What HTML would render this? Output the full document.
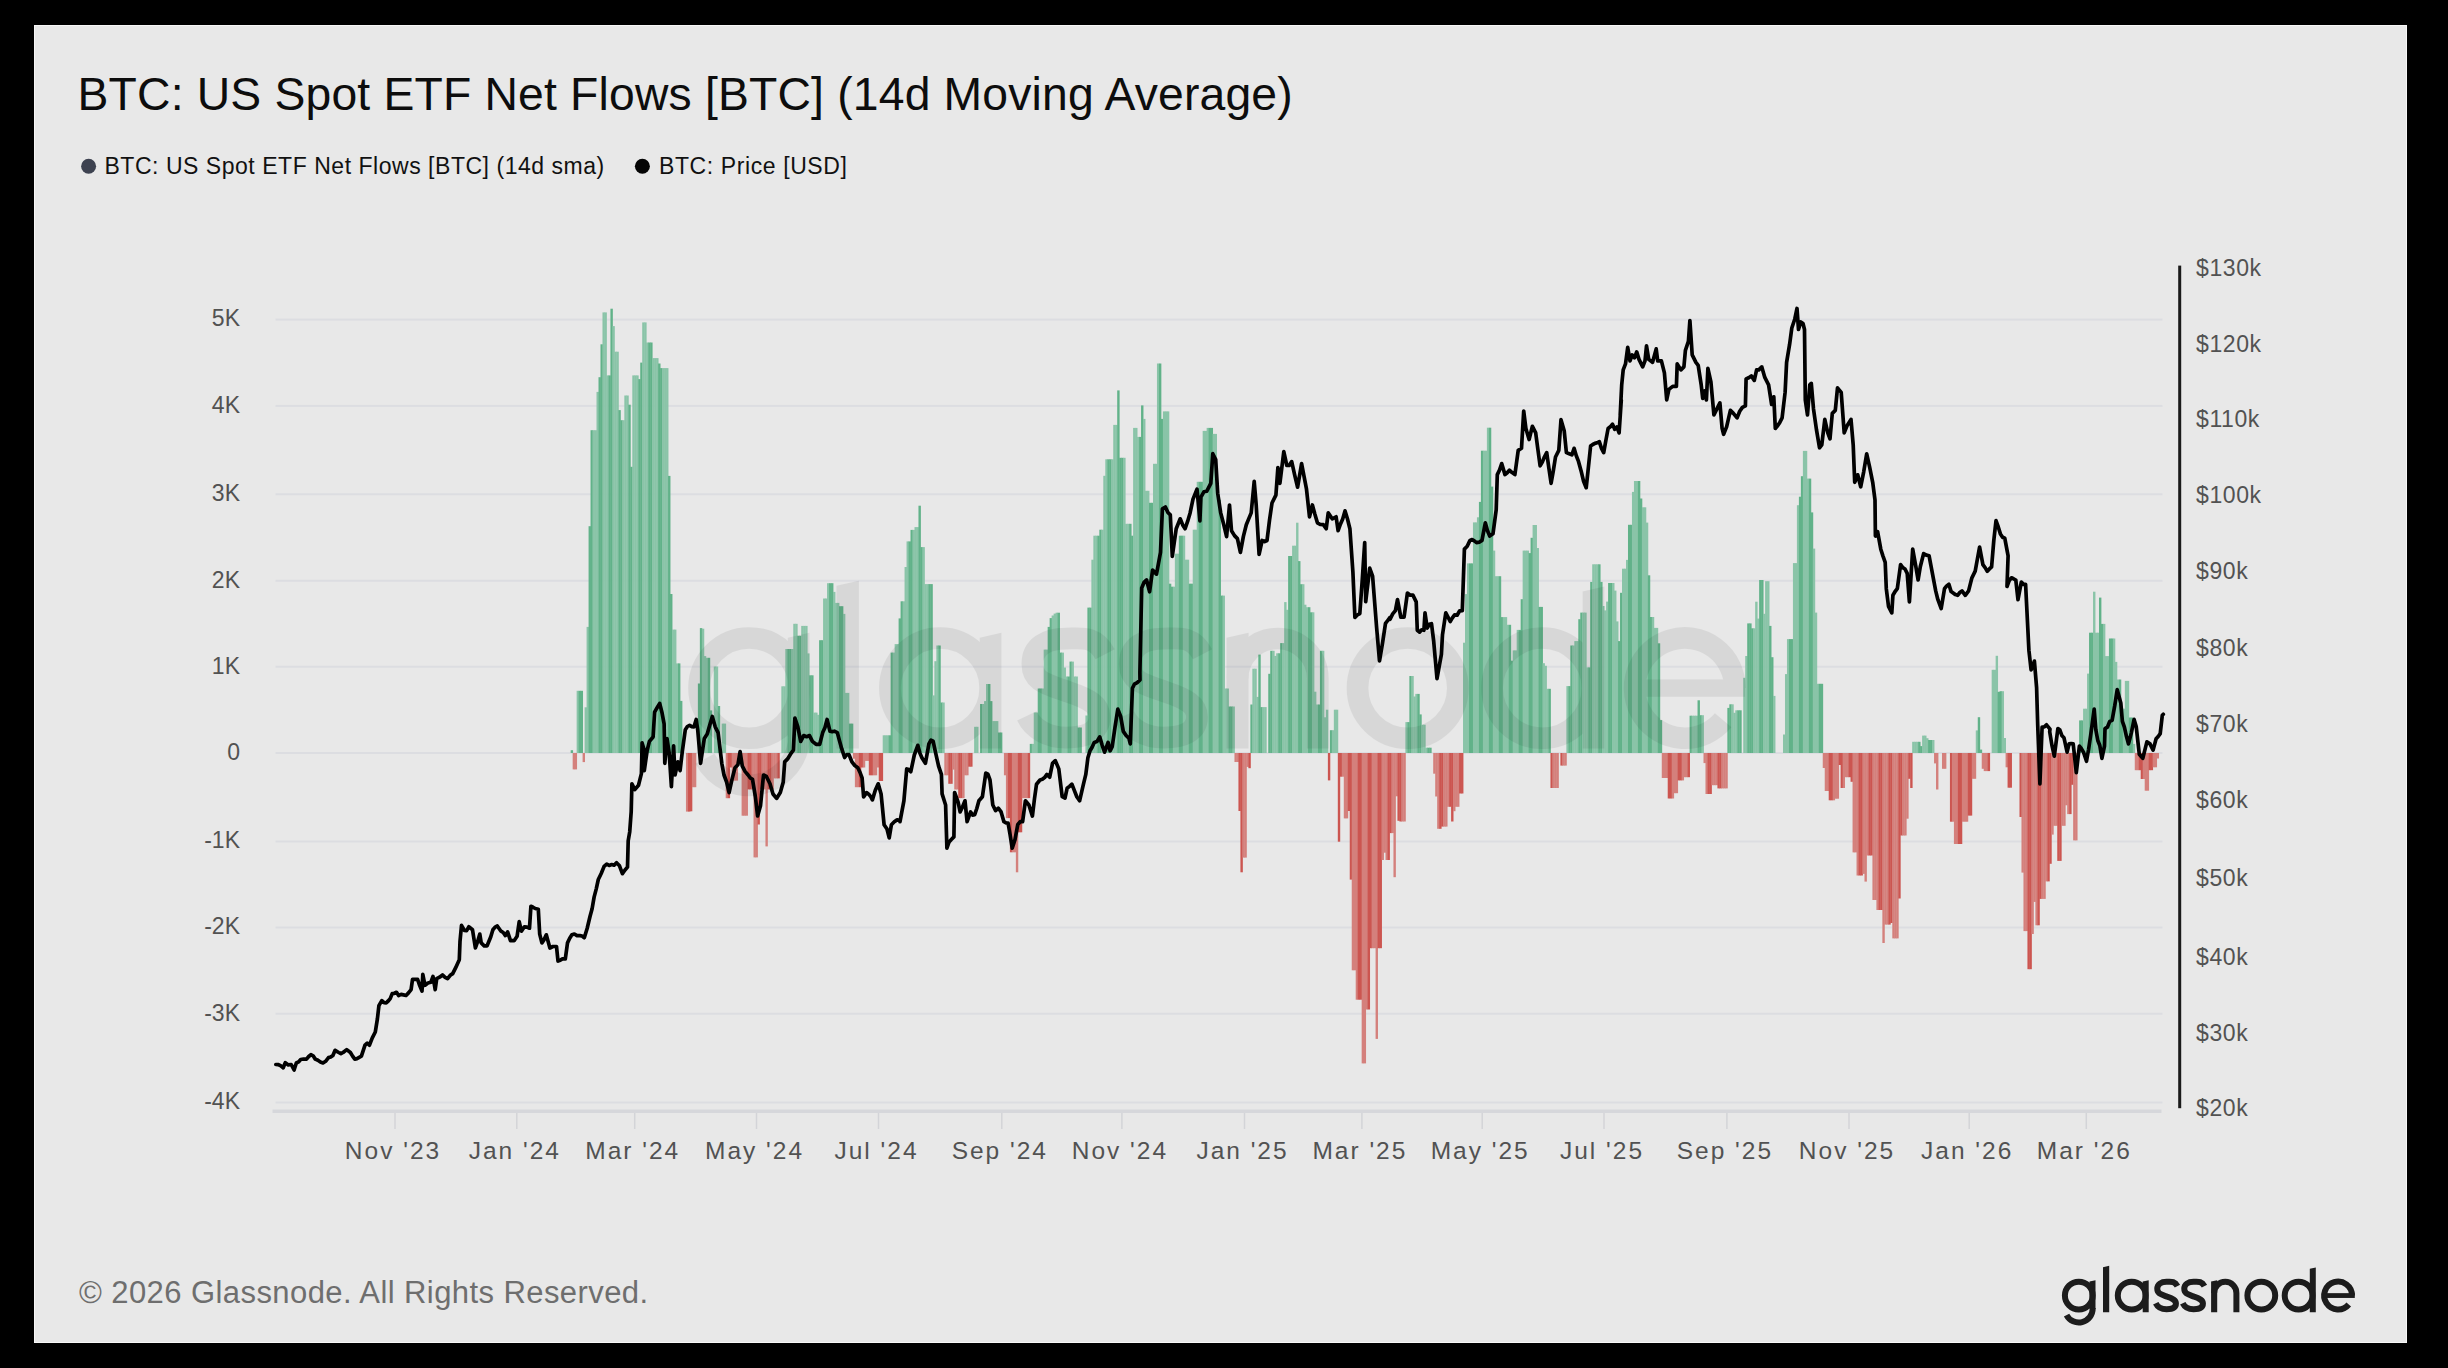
<!DOCTYPE html>
<html><head><meta charset="utf-8"><style>
html,body{margin:0;padding:0;background:#000;}
body{width:2448px;height:1368px;overflow:hidden;position:relative;font-family:"Liberation Sans",sans-serif;}
#panel{position:absolute;left:34px;top:25px;width:2373px;height:1318px;background:#e8e8e8;box-sizing:border-box;border:1px solid #f7f7f7;}
.ax{font-family:"Liberation Sans",sans-serif;font-size:23px;fill:#525252;}
.tk{font-family:"Liberation Sans",sans-serif;font-size:24.5px;fill:#525252;letter-spacing:2.0px;}
</style></head><body>
<div id="panel"></div>
<svg width="2448" height="1368" viewBox="0 0 2448 1368" style="position:absolute;left:0;top:0">
<defs><g id="gn"><circle cx="2078.80" cy="1295.55" r="13.90" fill="none" stroke-width="6.0"/>
<path d="M2089.50,1281.60 L2095.50,1280.20 L2095.50,1309.00 L2089.50,1309.00 Z" stroke="none"/>
<path d="M2092.70,1308.00 L2092.70,1308.60 A13.90,13.90 0 0 1 2066.53,1315.13" fill="none" stroke-width="6.0"/>
<path d="M2103.00,1267.20 L2109.20,1265.80 L2109.20,1312.30 L2103.00,1312.30 Z" stroke="none"/>
<circle cx="2131.70" cy="1295.55" r="13.90" fill="none" stroke-width="6.0"/>
<path d="M2142.70,1281.60 L2148.70,1280.20 L2148.70,1312.30 L2142.70,1312.30 Z" stroke="none"/>
<path d="M2177.44,1286.17 C2174.66,1280.81 2170.63,1281.82 2166.60,1281.82 C2161.06,1281.82 2157.28,1284.16 2157.28,1288.85 C2157.28,1293.88 2161.56,1294.54 2167.10,1296.56 C2173.15,1298.57 2175.92,1300.24 2175.92,1303.59 C2175.92,1307.61 2172.14,1309.28 2166.60,1309.28 C2161.56,1309.28 2157.53,1306.94 2155.76,1303.25" fill="none" stroke-width="6.0"/>
<path d="M2204.44,1286.17 C2201.66,1280.81 2197.63,1281.82 2193.60,1281.82 C2188.06,1281.82 2184.28,1284.16 2184.28,1288.85 C2184.28,1293.88 2188.56,1294.54 2194.10,1296.56 C2200.15,1298.57 2202.92,1300.24 2202.92,1303.59 C2202.92,1307.61 2199.14,1309.28 2193.60,1309.28 C2188.56,1309.28 2184.53,1306.94 2182.76,1303.25" fill="none" stroke-width="6.0"/>
<path d="M2211.10,1281.60 L2217.20,1280.20 L2217.20,1312.30 L2211.10,1312.30 Z" stroke="none"/>
<path d="M2214.15,1292.92 A11.12,11.12 0 0 1 2236.4,1292.92 L2236.4,1312.30" fill="none" stroke-width="6.0"/>
<circle cx="2261.30" cy="1295.55" r="13.90" fill="none" stroke-width="6.0"/>
<circle cx="2298.60" cy="1295.55" r="13.90" fill="none" stroke-width="6.0"/>
<path d="M2309.80,1268.80 L2315.80,1267.40 L2315.80,1312.30 L2309.80,1312.30 Z" stroke="none"/>
<path d="M2352.00,1295.55 A13.90,13.90 0 1 0 2348.75,1304.48" fill="none" stroke-width="6.0"/>
<rect x="2323.20" y="1293.15" width="31.60" height="4.8" stroke="none"/></g></defs>
<text x="77.5" y="110" style="font-family:'Liberation Sans',sans-serif;font-size:46.3px;fill:#0d0d0d;letter-spacing:0.18px">BTC: US Spot ETF Net Flows [BTC] (14d Moving Average)</text>
<circle cx="88.6" cy="166.3" r="7.5" fill="#3d4250"/>
<text x="104.5" y="174" style="font-family:'Liberation Sans',sans-serif;font-size:23px;fill:#111;letter-spacing:0.53px">BTC: US Spot ETF Net Flows [BTC] (14d sma)</text>
<circle cx="642.4" cy="166.3" r="7.5" fill="#050505"/>
<text x="659" y="174" style="font-family:'Liberation Sans',sans-serif;font-size:23px;fill:#111;letter-spacing:0.6px">BTC: Price [USD]</text>
<rect x="275.5" y="318.6" width="1887" height="2" fill="#dcdde1"/>
<rect x="275.5" y="404.9" width="1887" height="2" fill="#dcdde1"/>
<rect x="275.5" y="493.3" width="1887" height="2" fill="#dcdde1"/>
<rect x="275.5" y="579.8" width="1887" height="2" fill="#dcdde1"/>
<rect x="275.5" y="665.7" width="1887" height="2" fill="#dcdde1"/>
<rect x="275.5" y="752.0" width="1887" height="2" fill="#dcdde1"/>
<rect x="275.5" y="840.5" width="1887" height="2" fill="#dcdde1"/>
<rect x="275.5" y="926.5" width="1887" height="2" fill="#dcdde1"/>
<rect x="275.5" y="1012.7" width="1887" height="2" fill="#dcdde1"/>
<rect x="275.5" y="1101.5" width="1887" height="2" fill="#dcdde1"/>
<rect x="570.68" y="750.2" width="2.4" height="2.8" fill="#61b289"/>
<rect x="572.67" y="753.0" width="2.4" height="16.4" fill="#d4807c"/>
<rect x="574.65" y="753.0" width="2.4" height="16.4" fill="#d4807c"/>
<rect x="576.64" y="690.8" width="2.4" height="62.2" fill="#8ac4a8"/>
<rect x="578.63" y="690.8" width="2.4" height="62.2" fill="#61b289"/>
<rect x="580.62" y="690.8" width="2.4" height="62.2" fill="#61b289"/>
<rect x="582.60" y="753.0" width="2.4" height="9.1" fill="#d4807c"/>
<rect x="584.59" y="707.3" width="2.4" height="45.7" fill="#8ac4a8"/>
<rect x="586.58" y="626.9" width="2.4" height="126.1" fill="#8ac4a8"/>
<rect x="588.57" y="526.2" width="2.4" height="226.8" fill="#61b289"/>
<rect x="590.55" y="430.2" width="2.4" height="322.8" fill="#61b289"/>
<rect x="592.54" y="430.2" width="2.4" height="322.8" fill="#8ac4a8"/>
<rect x="594.53" y="430.2" width="2.4" height="322.8" fill="#8ac4a8"/>
<rect x="596.51" y="391.9" width="2.4" height="361.1" fill="#8ac4a8"/>
<rect x="598.50" y="377.2" width="2.4" height="375.8" fill="#61b289"/>
<rect x="600.49" y="344.3" width="2.4" height="408.7" fill="#61b289"/>
<rect x="602.48" y="312.4" width="2.4" height="440.6" fill="#8ac4a8"/>
<rect x="604.46" y="312.4" width="2.4" height="440.6" fill="#8ac4a8"/>
<rect x="606.45" y="375.4" width="2.4" height="377.6" fill="#8ac4a8"/>
<rect x="608.44" y="375.4" width="2.4" height="377.6" fill="#61b289"/>
<rect x="610.43" y="308.7" width="2.4" height="444.3" fill="#61b289"/>
<rect x="612.41" y="326.1" width="2.4" height="426.9" fill="#8ac4a8"/>
<rect x="614.40" y="351.7" width="2.4" height="401.3" fill="#8ac4a8"/>
<rect x="616.39" y="351.7" width="2.4" height="401.3" fill="#8ac4a8"/>
<rect x="618.38" y="410.1" width="2.4" height="342.9" fill="#61b289"/>
<rect x="620.36" y="420.2" width="2.4" height="332.8" fill="#61b289"/>
<rect x="622.35" y="420.2" width="2.4" height="332.8" fill="#8ac4a8"/>
<rect x="624.34" y="395.5" width="2.4" height="357.5" fill="#8ac4a8"/>
<rect x="626.33" y="395.5" width="2.4" height="357.5" fill="#8ac4a8"/>
<rect x="628.31" y="404.7" width="2.4" height="348.3" fill="#61b289"/>
<rect x="630.30" y="466.8" width="2.4" height="286.2" fill="#61b289"/>
<rect x="632.29" y="375.4" width="2.4" height="377.6" fill="#8ac4a8"/>
<rect x="634.28" y="375.4" width="2.4" height="377.6" fill="#8ac4a8"/>
<rect x="636.26" y="375.4" width="2.4" height="377.6" fill="#8ac4a8"/>
<rect x="638.25" y="379.1" width="2.4" height="373.9" fill="#61b289"/>
<rect x="640.24" y="362.6" width="2.4" height="390.4" fill="#61b289"/>
<rect x="642.22" y="322.4" width="2.4" height="430.6" fill="#8ac4a8"/>
<rect x="644.21" y="322.4" width="2.4" height="430.6" fill="#8ac4a8"/>
<rect x="646.20" y="342.5" width="2.4" height="410.5" fill="#8ac4a8"/>
<rect x="648.19" y="342.5" width="2.4" height="410.5" fill="#61b289"/>
<rect x="650.17" y="342.5" width="2.4" height="410.5" fill="#61b289"/>
<rect x="652.16" y="358.1" width="2.4" height="394.9" fill="#8ac4a8"/>
<rect x="654.15" y="358.1" width="2.4" height="394.9" fill="#8ac4a8"/>
<rect x="656.14" y="358.1" width="2.4" height="394.9" fill="#8ac4a8"/>
<rect x="658.12" y="363.5" width="2.4" height="389.5" fill="#61b289"/>
<rect x="660.11" y="368.1" width="2.4" height="384.9" fill="#61b289"/>
<rect x="662.10" y="368.1" width="2.4" height="384.9" fill="#8ac4a8"/>
<rect x="664.09" y="368.1" width="2.4" height="384.9" fill="#8ac4a8"/>
<rect x="666.07" y="368.1" width="2.4" height="384.9" fill="#8ac4a8"/>
<rect x="668.06" y="475.9" width="2.4" height="277.1" fill="#61b289"/>
<rect x="670.05" y="594.0" width="2.4" height="159.0" fill="#61b289"/>
<rect x="672.04" y="629.6" width="2.4" height="123.4" fill="#8ac4a8"/>
<rect x="674.02" y="629.6" width="2.4" height="123.4" fill="#8ac4a8"/>
<rect x="676.01" y="663.4" width="2.4" height="89.6" fill="#8ac4a8"/>
<rect x="678.00" y="663.4" width="2.4" height="89.6" fill="#61b289"/>
<rect x="679.99" y="700.9" width="2.4" height="52.1" fill="#61b289"/>
<rect x="685.95" y="753.0" width="2.4" height="58.6" fill="#d4807c"/>
<rect x="687.94" y="753.0" width="2.4" height="58.6" fill="#cc5550"/>
<rect x="689.92" y="753.0" width="2.4" height="58.3" fill="#cc5550"/>
<rect x="691.91" y="753.0" width="2.4" height="34.2" fill="#d4807c"/>
<rect x="693.90" y="753.0" width="2.4" height="34.2" fill="#d4807c"/>
<rect x="697.87" y="683.5" width="2.4" height="69.5" fill="#61b289"/>
<rect x="699.86" y="628.1" width="2.4" height="124.9" fill="#61b289"/>
<rect x="701.85" y="628.7" width="2.4" height="124.3" fill="#8ac4a8"/>
<rect x="703.83" y="656.1" width="2.4" height="96.9" fill="#8ac4a8"/>
<rect x="705.82" y="657.8" width="2.4" height="95.2" fill="#8ac4a8"/>
<rect x="707.81" y="657.8" width="2.4" height="95.2" fill="#61b289"/>
<rect x="709.80" y="710.4" width="2.4" height="42.6" fill="#61b289"/>
<rect x="713.77" y="666.5" width="2.4" height="86.5" fill="#8ac4a8"/>
<rect x="715.76" y="666.5" width="2.4" height="86.5" fill="#8ac4a8"/>
<rect x="717.75" y="706.0" width="2.4" height="47.0" fill="#61b289"/>
<rect x="721.72" y="723.6" width="2.4" height="29.4" fill="#8ac4a8"/>
<rect x="723.71" y="723.6" width="2.4" height="29.4" fill="#8ac4a8"/>
<rect x="725.70" y="753.0" width="2.4" height="45.2" fill="#d4807c"/>
<rect x="727.68" y="753.0" width="2.4" height="45.2" fill="#cc5550"/>
<rect x="729.67" y="753.0" width="2.4" height="14.5" fill="#cc5550"/>
<rect x="731.66" y="753.0" width="2.4" height="27.6" fill="#d4807c"/>
<rect x="733.65" y="753.0" width="2.4" height="27.6" fill="#d4807c"/>
<rect x="735.63" y="753.0" width="2.4" height="27.6" fill="#d4807c"/>
<rect x="741.60" y="753.0" width="2.4" height="62.7" fill="#d4807c"/>
<rect x="743.58" y="753.0" width="2.4" height="62.7" fill="#d4807c"/>
<rect x="745.57" y="753.0" width="2.4" height="62.7" fill="#d4807c"/>
<rect x="747.56" y="753.0" width="2.4" height="36.4" fill="#cc5550"/>
<rect x="749.54" y="753.0" width="2.4" height="36.4" fill="#cc5550"/>
<rect x="751.53" y="753.0" width="2.4" height="36.4" fill="#d4807c"/>
<rect x="753.52" y="753.0" width="2.4" height="104.4" fill="#d4807c"/>
<rect x="755.51" y="753.0" width="2.4" height="104.4" fill="#d4807c"/>
<rect x="757.49" y="753.0" width="2.4" height="71.5" fill="#cc5550"/>
<rect x="759.48" y="753.0" width="2.4" height="36.4" fill="#cc5550"/>
<rect x="761.47" y="753.0" width="2.4" height="36.4" fill="#d4807c"/>
<rect x="763.46" y="753.0" width="2.4" height="36.4" fill="#d4807c"/>
<rect x="765.44" y="753.0" width="2.4" height="93.4" fill="#d4807c"/>
<rect x="767.43" y="753.0" width="2.4" height="36.4" fill="#cc5550"/>
<rect x="769.42" y="753.0" width="2.4" height="36.4" fill="#cc5550"/>
<rect x="771.41" y="753.0" width="2.4" height="36.4" fill="#d4807c"/>
<rect x="773.39" y="753.0" width="2.4" height="25.4" fill="#d4807c"/>
<rect x="775.38" y="753.0" width="2.4" height="25.4" fill="#d4807c"/>
<rect x="777.37" y="753.0" width="2.4" height="25.4" fill="#cc5550"/>
<rect x="781.34" y="686.3" width="2.4" height="66.7" fill="#8ac4a8"/>
<rect x="783.33" y="686.3" width="2.4" height="66.7" fill="#8ac4a8"/>
<rect x="785.32" y="649.0" width="2.4" height="104.0" fill="#8ac4a8"/>
<rect x="787.31" y="649.0" width="2.4" height="104.0" fill="#61b289"/>
<rect x="789.29" y="649.0" width="2.4" height="104.0" fill="#61b289"/>
<rect x="791.28" y="649.0" width="2.4" height="104.0" fill="#8ac4a8"/>
<rect x="793.27" y="623.8" width="2.4" height="129.2" fill="#8ac4a8"/>
<rect x="795.25" y="623.8" width="2.4" height="129.2" fill="#8ac4a8"/>
<rect x="797.24" y="635.8" width="2.4" height="117.2" fill="#61b289"/>
<rect x="799.23" y="635.8" width="2.4" height="117.2" fill="#61b289"/>
<rect x="801.22" y="625.9" width="2.4" height="127.1" fill="#8ac4a8"/>
<rect x="803.20" y="625.9" width="2.4" height="127.1" fill="#8ac4a8"/>
<rect x="805.19" y="625.9" width="2.4" height="127.1" fill="#8ac4a8"/>
<rect x="807.18" y="653.4" width="2.4" height="99.6" fill="#8ac4a8"/>
<rect x="809.17" y="675.3" width="2.4" height="77.7" fill="#61b289"/>
<rect x="811.15" y="675.3" width="2.4" height="77.7" fill="#61b289"/>
<rect x="813.14" y="712.6" width="2.4" height="40.4" fill="#8ac4a8"/>
<rect x="815.13" y="712.6" width="2.4" height="40.4" fill="#8ac4a8"/>
<rect x="817.12" y="714.8" width="2.4" height="38.2" fill="#8ac4a8"/>
<rect x="819.10" y="640.2" width="2.4" height="112.8" fill="#61b289"/>
<rect x="821.09" y="640.2" width="2.4" height="112.8" fill="#61b289"/>
<rect x="823.08" y="598.5" width="2.4" height="154.5" fill="#8ac4a8"/>
<rect x="825.07" y="598.5" width="2.4" height="154.5" fill="#8ac4a8"/>
<rect x="827.05" y="583.2" width="2.4" height="169.8" fill="#8ac4a8"/>
<rect x="829.04" y="583.2" width="2.4" height="169.8" fill="#61b289"/>
<rect x="831.03" y="583.2" width="2.4" height="169.8" fill="#61b289"/>
<rect x="833.02" y="591.9" width="2.4" height="161.1" fill="#8ac4a8"/>
<rect x="835.00" y="602.9" width="2.4" height="150.1" fill="#8ac4a8"/>
<rect x="836.99" y="602.9" width="2.4" height="150.1" fill="#8ac4a8"/>
<rect x="838.98" y="606.2" width="2.4" height="146.8" fill="#61b289"/>
<rect x="840.96" y="606.2" width="2.4" height="146.8" fill="#61b289"/>
<rect x="842.95" y="613.9" width="2.4" height="139.1" fill="#8ac4a8"/>
<rect x="844.94" y="692.9" width="2.4" height="60.1" fill="#8ac4a8"/>
<rect x="846.93" y="692.9" width="2.4" height="60.1" fill="#8ac4a8"/>
<rect x="848.91" y="723.6" width="2.4" height="29.4" fill="#61b289"/>
<rect x="850.90" y="723.6" width="2.4" height="29.4" fill="#61b289"/>
<rect x="852.89" y="753.0" width="2.4" height="5.7" fill="#d4807c"/>
<rect x="854.88" y="753.0" width="2.4" height="34.2" fill="#d4807c"/>
<rect x="856.86" y="753.0" width="2.4" height="34.2" fill="#d4807c"/>
<rect x="858.85" y="753.0" width="2.4" height="34.2" fill="#cc5550"/>
<rect x="860.84" y="753.0" width="2.4" height="14.5" fill="#cc5550"/>
<rect x="862.83" y="753.0" width="2.4" height="14.5" fill="#d4807c"/>
<rect x="864.81" y="753.0" width="2.4" height="7.9" fill="#d4807c"/>
<rect x="866.80" y="753.0" width="2.4" height="7.9" fill="#d4807c"/>
<rect x="868.79" y="753.0" width="2.4" height="22.3" fill="#cc5550"/>
<rect x="870.78" y="753.0" width="2.4" height="22.3" fill="#cc5550"/>
<rect x="872.76" y="753.0" width="2.4" height="22.3" fill="#d4807c"/>
<rect x="874.75" y="753.0" width="2.4" height="22.3" fill="#d4807c"/>
<rect x="876.74" y="753.0" width="2.4" height="14.5" fill="#d4807c"/>
<rect x="878.73" y="753.0" width="2.4" height="28.0" fill="#cc5550"/>
<rect x="880.71" y="753.0" width="2.4" height="28.0" fill="#cc5550"/>
<rect x="882.70" y="735.3" width="2.4" height="17.7" fill="#8ac4a8"/>
<rect x="884.69" y="735.3" width="2.4" height="17.7" fill="#8ac4a8"/>
<rect x="886.68" y="735.3" width="2.4" height="17.7" fill="#8ac4a8"/>
<rect x="888.66" y="735.3" width="2.4" height="17.7" fill="#61b289"/>
<rect x="890.65" y="652.6" width="2.4" height="100.4" fill="#61b289"/>
<rect x="892.64" y="652.6" width="2.4" height="100.4" fill="#8ac4a8"/>
<rect x="894.62" y="644.1" width="2.4" height="108.9" fill="#8ac4a8"/>
<rect x="896.61" y="644.1" width="2.4" height="108.9" fill="#8ac4a8"/>
<rect x="898.60" y="618.4" width="2.4" height="134.6" fill="#61b289"/>
<rect x="900.59" y="601.3" width="2.4" height="151.7" fill="#61b289"/>
<rect x="902.57" y="601.3" width="2.4" height="151.7" fill="#8ac4a8"/>
<rect x="904.56" y="567.0" width="2.4" height="186.0" fill="#8ac4a8"/>
<rect x="906.55" y="541.4" width="2.4" height="211.6" fill="#8ac4a8"/>
<rect x="908.54" y="541.4" width="2.4" height="211.6" fill="#61b289"/>
<rect x="910.52" y="529.9" width="2.4" height="223.1" fill="#61b289"/>
<rect x="912.51" y="529.9" width="2.4" height="223.1" fill="#8ac4a8"/>
<rect x="914.50" y="527.1" width="2.4" height="225.9" fill="#8ac4a8"/>
<rect x="916.49" y="527.1" width="2.4" height="225.9" fill="#8ac4a8"/>
<rect x="918.47" y="505.7" width="2.4" height="247.3" fill="#61b289"/>
<rect x="920.46" y="547.1" width="2.4" height="205.9" fill="#61b289"/>
<rect x="922.45" y="547.1" width="2.4" height="205.9" fill="#8ac4a8"/>
<rect x="924.44" y="584.1" width="2.4" height="168.9" fill="#8ac4a8"/>
<rect x="926.42" y="584.1" width="2.4" height="168.9" fill="#8ac4a8"/>
<rect x="928.41" y="584.1" width="2.4" height="168.9" fill="#61b289"/>
<rect x="930.40" y="584.1" width="2.4" height="168.9" fill="#61b289"/>
<rect x="932.39" y="695.4" width="2.4" height="57.6" fill="#8ac4a8"/>
<rect x="934.37" y="661.2" width="2.4" height="91.8" fill="#8ac4a8"/>
<rect x="936.36" y="645.5" width="2.4" height="107.5" fill="#8ac4a8"/>
<rect x="938.35" y="645.5" width="2.4" height="107.5" fill="#61b289"/>
<rect x="940.33" y="702.5" width="2.4" height="50.5" fill="#61b289"/>
<rect x="942.32" y="702.5" width="2.4" height="50.5" fill="#8ac4a8"/>
<rect x="944.31" y="753.0" width="2.4" height="22.3" fill="#d4807c"/>
<rect x="946.30" y="753.0" width="2.4" height="22.3" fill="#d4807c"/>
<rect x="948.28" y="753.0" width="2.4" height="30.8" fill="#cc5550"/>
<rect x="950.27" y="753.0" width="2.4" height="30.8" fill="#cc5550"/>
<rect x="952.26" y="753.0" width="2.4" height="16.6" fill="#d4807c"/>
<rect x="954.25" y="753.0" width="2.4" height="36.5" fill="#d4807c"/>
<rect x="956.23" y="753.0" width="2.4" height="36.5" fill="#d4807c"/>
<rect x="958.22" y="753.0" width="2.4" height="45.1" fill="#cc5550"/>
<rect x="960.21" y="753.0" width="2.4" height="45.1" fill="#cc5550"/>
<rect x="962.20" y="753.0" width="2.4" height="45.1" fill="#d4807c"/>
<rect x="964.18" y="753.0" width="2.4" height="22.3" fill="#d4807c"/>
<rect x="966.17" y="753.0" width="2.4" height="22.3" fill="#d4807c"/>
<rect x="968.16" y="753.0" width="2.4" height="13.7" fill="#cc5550"/>
<rect x="970.15" y="753.0" width="2.4" height="13.7" fill="#cc5550"/>
<rect x="974.12" y="726.8" width="2.4" height="26.2" fill="#8ac4a8"/>
<rect x="976.11" y="726.8" width="2.4" height="26.2" fill="#8ac4a8"/>
<rect x="980.08" y="704.0" width="2.4" height="49.0" fill="#61b289"/>
<rect x="982.07" y="704.0" width="2.4" height="49.0" fill="#8ac4a8"/>
<rect x="984.06" y="701.1" width="2.4" height="51.9" fill="#8ac4a8"/>
<rect x="986.05" y="684.0" width="2.4" height="69.0" fill="#8ac4a8"/>
<rect x="988.03" y="684.0" width="2.4" height="69.0" fill="#61b289"/>
<rect x="990.02" y="701.1" width="2.4" height="51.9" fill="#61b289"/>
<rect x="992.01" y="721.1" width="2.4" height="31.9" fill="#8ac4a8"/>
<rect x="993.99" y="721.1" width="2.4" height="31.9" fill="#8ac4a8"/>
<rect x="995.98" y="721.1" width="2.4" height="31.9" fill="#8ac4a8"/>
<rect x="997.97" y="732.5" width="2.4" height="20.5" fill="#61b289"/>
<rect x="999.96" y="732.5" width="2.4" height="20.5" fill="#61b289"/>
<rect x="1003.93" y="753.0" width="2.4" height="22.3" fill="#d4807c"/>
<rect x="1005.92" y="753.0" width="2.4" height="65.1" fill="#d4807c"/>
<rect x="1007.91" y="753.0" width="2.4" height="65.1" fill="#cc5550"/>
<rect x="1009.89" y="753.0" width="2.4" height="99.3" fill="#cc5550"/>
<rect x="1011.88" y="753.0" width="2.4" height="99.3" fill="#d4807c"/>
<rect x="1013.87" y="753.0" width="2.4" height="99.3" fill="#d4807c"/>
<rect x="1015.86" y="753.0" width="2.4" height="119.3" fill="#d4807c"/>
<rect x="1017.84" y="753.0" width="2.4" height="79.3" fill="#cc5550"/>
<rect x="1019.83" y="753.0" width="2.4" height="79.3" fill="#cc5550"/>
<rect x="1021.82" y="753.0" width="2.4" height="45.1" fill="#d4807c"/>
<rect x="1023.81" y="753.0" width="2.4" height="45.1" fill="#d4807c"/>
<rect x="1025.79" y="753.0" width="2.4" height="45.1" fill="#d4807c"/>
<rect x="1027.78" y="753.0" width="2.4" height="45.1" fill="#cc5550"/>
<rect x="1029.77" y="743.9" width="2.4" height="9.1" fill="#61b289"/>
<rect x="1031.76" y="743.9" width="2.4" height="9.1" fill="#8ac4a8"/>
<rect x="1033.74" y="712.5" width="2.4" height="40.5" fill="#8ac4a8"/>
<rect x="1035.73" y="712.5" width="2.4" height="40.5" fill="#8ac4a8"/>
<rect x="1037.72" y="688.5" width="2.4" height="64.5" fill="#61b289"/>
<rect x="1039.70" y="688.5" width="2.4" height="64.5" fill="#61b289"/>
<rect x="1041.69" y="688.5" width="2.4" height="64.5" fill="#8ac4a8"/>
<rect x="1043.68" y="649.6" width="2.4" height="103.4" fill="#8ac4a8"/>
<rect x="1045.67" y="649.6" width="2.4" height="103.4" fill="#8ac4a8"/>
<rect x="1047.65" y="626.9" width="2.4" height="126.1" fill="#61b289"/>
<rect x="1049.64" y="618.1" width="2.4" height="134.9" fill="#61b289"/>
<rect x="1051.63" y="615.5" width="2.4" height="137.5" fill="#8ac4a8"/>
<rect x="1053.62" y="613.6" width="2.4" height="139.4" fill="#8ac4a8"/>
<rect x="1055.60" y="612.7" width="2.4" height="140.3" fill="#8ac4a8"/>
<rect x="1057.59" y="612.7" width="2.4" height="140.3" fill="#61b289"/>
<rect x="1059.58" y="652.6" width="2.4" height="100.4" fill="#61b289"/>
<rect x="1061.57" y="652.6" width="2.4" height="100.4" fill="#8ac4a8"/>
<rect x="1063.55" y="667.5" width="2.4" height="85.5" fill="#8ac4a8"/>
<rect x="1065.54" y="676.5" width="2.4" height="76.5" fill="#8ac4a8"/>
<rect x="1067.53" y="676.5" width="2.4" height="76.5" fill="#61b289"/>
<rect x="1069.52" y="661.6" width="2.4" height="91.4" fill="#61b289"/>
<rect x="1071.50" y="661.6" width="2.4" height="91.4" fill="#8ac4a8"/>
<rect x="1073.49" y="676.5" width="2.4" height="76.5" fill="#8ac4a8"/>
<rect x="1075.48" y="676.5" width="2.4" height="76.5" fill="#8ac4a8"/>
<rect x="1077.47" y="727.5" width="2.4" height="25.5" fill="#61b289"/>
<rect x="1079.45" y="727.5" width="2.4" height="25.5" fill="#61b289"/>
<rect x="1085.42" y="715.5" width="2.4" height="37.5" fill="#8ac4a8"/>
<rect x="1087.40" y="607.6" width="2.4" height="145.4" fill="#61b289"/>
<rect x="1089.39" y="607.6" width="2.4" height="145.4" fill="#61b289"/>
<rect x="1091.38" y="559.7" width="2.4" height="193.3" fill="#8ac4a8"/>
<rect x="1093.36" y="535.7" width="2.4" height="217.3" fill="#8ac4a8"/>
<rect x="1095.35" y="535.7" width="2.4" height="217.3" fill="#8ac4a8"/>
<rect x="1097.34" y="535.7" width="2.4" height="217.3" fill="#61b289"/>
<rect x="1099.33" y="529.7" width="2.4" height="223.3" fill="#61b289"/>
<rect x="1101.31" y="529.7" width="2.4" height="223.3" fill="#8ac4a8"/>
<rect x="1103.30" y="475.8" width="2.4" height="277.2" fill="#8ac4a8"/>
<rect x="1105.29" y="459.3" width="2.4" height="293.7" fill="#8ac4a8"/>
<rect x="1107.28" y="459.3" width="2.4" height="293.7" fill="#61b289"/>
<rect x="1109.26" y="459.3" width="2.4" height="293.7" fill="#61b289"/>
<rect x="1111.25" y="459.3" width="2.4" height="293.7" fill="#8ac4a8"/>
<rect x="1113.24" y="424.9" width="2.4" height="328.1" fill="#8ac4a8"/>
<rect x="1115.23" y="424.9" width="2.4" height="328.1" fill="#8ac4a8"/>
<rect x="1117.21" y="390.4" width="2.4" height="362.6" fill="#61b289"/>
<rect x="1119.20" y="457.8" width="2.4" height="295.2" fill="#61b289"/>
<rect x="1121.19" y="457.8" width="2.4" height="295.2" fill="#61b289"/>
<rect x="1123.18" y="457.8" width="2.4" height="295.2" fill="#8ac4a8"/>
<rect x="1125.16" y="523.8" width="2.4" height="229.2" fill="#8ac4a8"/>
<rect x="1127.15" y="523.8" width="2.4" height="229.2" fill="#8ac4a8"/>
<rect x="1129.14" y="523.8" width="2.4" height="229.2" fill="#61b289"/>
<rect x="1131.13" y="535.7" width="2.4" height="217.3" fill="#61b289"/>
<rect x="1133.11" y="427.9" width="2.4" height="325.1" fill="#8ac4a8"/>
<rect x="1135.10" y="427.9" width="2.4" height="325.1" fill="#8ac4a8"/>
<rect x="1137.09" y="436.9" width="2.4" height="316.1" fill="#8ac4a8"/>
<rect x="1139.08" y="436.9" width="2.4" height="316.1" fill="#61b289"/>
<rect x="1141.06" y="405.4" width="2.4" height="347.6" fill="#61b289"/>
<rect x="1143.05" y="418.9" width="2.4" height="334.1" fill="#8ac4a8"/>
<rect x="1145.04" y="490.8" width="2.4" height="262.2" fill="#8ac4a8"/>
<rect x="1147.02" y="490.8" width="2.4" height="262.2" fill="#8ac4a8"/>
<rect x="1149.01" y="502.8" width="2.4" height="250.2" fill="#61b289"/>
<rect x="1151.00" y="502.8" width="2.4" height="250.2" fill="#61b289"/>
<rect x="1152.99" y="463.8" width="2.4" height="289.2" fill="#8ac4a8"/>
<rect x="1154.97" y="463.8" width="2.4" height="289.2" fill="#8ac4a8"/>
<rect x="1156.96" y="363.5" width="2.4" height="389.5" fill="#8ac4a8"/>
<rect x="1158.95" y="363.5" width="2.4" height="389.5" fill="#61b289"/>
<rect x="1160.94" y="418.9" width="2.4" height="334.1" fill="#61b289"/>
<rect x="1162.92" y="411.4" width="2.4" height="341.6" fill="#8ac4a8"/>
<rect x="1164.91" y="411.4" width="2.4" height="341.6" fill="#8ac4a8"/>
<rect x="1166.90" y="411.4" width="2.4" height="341.6" fill="#8ac4a8"/>
<rect x="1168.89" y="583.7" width="2.4" height="169.3" fill="#61b289"/>
<rect x="1170.87" y="586.7" width="2.4" height="166.3" fill="#61b289"/>
<rect x="1172.86" y="586.7" width="2.4" height="166.3" fill="#8ac4a8"/>
<rect x="1174.85" y="553.7" width="2.4" height="199.3" fill="#8ac4a8"/>
<rect x="1176.84" y="553.7" width="2.4" height="199.3" fill="#8ac4a8"/>
<rect x="1178.82" y="535.7" width="2.4" height="217.3" fill="#61b289"/>
<rect x="1180.81" y="535.7" width="2.4" height="217.3" fill="#61b289"/>
<rect x="1182.80" y="535.7" width="2.4" height="217.3" fill="#8ac4a8"/>
<rect x="1184.79" y="559.7" width="2.4" height="193.3" fill="#8ac4a8"/>
<rect x="1186.77" y="559.7" width="2.4" height="193.3" fill="#8ac4a8"/>
<rect x="1188.76" y="583.7" width="2.4" height="169.3" fill="#61b289"/>
<rect x="1190.75" y="583.7" width="2.4" height="169.3" fill="#61b289"/>
<rect x="1192.73" y="529.7" width="2.4" height="223.3" fill="#8ac4a8"/>
<rect x="1194.72" y="529.7" width="2.4" height="223.3" fill="#8ac4a8"/>
<rect x="1196.71" y="481.8" width="2.4" height="271.2" fill="#8ac4a8"/>
<rect x="1198.70" y="481.8" width="2.4" height="271.2" fill="#61b289"/>
<rect x="1200.68" y="481.8" width="2.4" height="271.2" fill="#61b289"/>
<rect x="1202.67" y="430.9" width="2.4" height="322.1" fill="#8ac4a8"/>
<rect x="1204.66" y="430.9" width="2.4" height="322.1" fill="#8ac4a8"/>
<rect x="1206.65" y="427.9" width="2.4" height="325.1" fill="#8ac4a8"/>
<rect x="1208.63" y="427.9" width="2.4" height="325.1" fill="#61b289"/>
<rect x="1210.62" y="427.9" width="2.4" height="325.1" fill="#61b289"/>
<rect x="1212.61" y="433.9" width="2.4" height="319.1" fill="#8ac4a8"/>
<rect x="1214.60" y="433.9" width="2.4" height="319.1" fill="#8ac4a8"/>
<rect x="1216.58" y="499.8" width="2.4" height="253.2" fill="#8ac4a8"/>
<rect x="1218.57" y="499.8" width="2.4" height="253.2" fill="#61b289"/>
<rect x="1220.56" y="595.6" width="2.4" height="157.4" fill="#61b289"/>
<rect x="1222.55" y="595.6" width="2.4" height="157.4" fill="#8ac4a8"/>
<rect x="1224.53" y="688.5" width="2.4" height="64.5" fill="#8ac4a8"/>
<rect x="1226.52" y="688.5" width="2.4" height="64.5" fill="#8ac4a8"/>
<rect x="1228.51" y="706.5" width="2.4" height="46.5" fill="#61b289"/>
<rect x="1230.50" y="706.5" width="2.4" height="46.5" fill="#61b289"/>
<rect x="1232.48" y="706.5" width="2.4" height="46.5" fill="#8ac4a8"/>
<rect x="1234.47" y="753.0" width="2.4" height="9.0" fill="#d4807c"/>
<rect x="1236.46" y="753.0" width="2.4" height="9.0" fill="#d4807c"/>
<rect x="1238.44" y="753.0" width="2.4" height="58.0" fill="#cc5550"/>
<rect x="1240.43" y="753.0" width="2.4" height="119.3" fill="#cc5550"/>
<rect x="1242.42" y="753.0" width="2.4" height="104.6" fill="#d4807c"/>
<rect x="1244.41" y="753.0" width="2.4" height="104.6" fill="#d4807c"/>
<rect x="1246.39" y="753.0" width="2.4" height="13.9" fill="#d4807c"/>
<rect x="1248.38" y="753.0" width="2.4" height="15.2" fill="#cc5550"/>
<rect x="1250.37" y="704.5" width="2.4" height="48.5" fill="#61b289"/>
<rect x="1252.36" y="668.7" width="2.4" height="84.3" fill="#8ac4a8"/>
<rect x="1254.34" y="668.7" width="2.4" height="84.3" fill="#8ac4a8"/>
<rect x="1256.33" y="696.9" width="2.4" height="56.1" fill="#8ac4a8"/>
<rect x="1258.32" y="654.6" width="2.4" height="98.4" fill="#61b289"/>
<rect x="1260.31" y="707.1" width="2.4" height="45.9" fill="#61b289"/>
<rect x="1262.29" y="707.1" width="2.4" height="45.9" fill="#8ac4a8"/>
<rect x="1264.28" y="707.1" width="2.4" height="45.9" fill="#8ac4a8"/>
<rect x="1268.26" y="673.8" width="2.4" height="79.2" fill="#61b289"/>
<rect x="1270.24" y="650.8" width="2.4" height="102.2" fill="#61b289"/>
<rect x="1272.23" y="650.8" width="2.4" height="102.2" fill="#8ac4a8"/>
<rect x="1274.22" y="655.9" width="2.4" height="97.1" fill="#8ac4a8"/>
<rect x="1276.21" y="653.3" width="2.4" height="99.7" fill="#8ac4a8"/>
<rect x="1278.19" y="653.3" width="2.4" height="99.7" fill="#61b289"/>
<rect x="1280.18" y="643.1" width="2.4" height="109.9" fill="#61b289"/>
<rect x="1282.17" y="643.1" width="2.4" height="109.9" fill="#8ac4a8"/>
<rect x="1284.16" y="602.1" width="2.4" height="150.9" fill="#8ac4a8"/>
<rect x="1286.14" y="609.8" width="2.4" height="143.2" fill="#8ac4a8"/>
<rect x="1288.13" y="556.0" width="2.4" height="197.0" fill="#61b289"/>
<rect x="1290.12" y="556.0" width="2.4" height="197.0" fill="#61b289"/>
<rect x="1292.10" y="545.7" width="2.4" height="207.3" fill="#8ac4a8"/>
<rect x="1294.09" y="545.7" width="2.4" height="207.3" fill="#8ac4a8"/>
<rect x="1296.08" y="522.7" width="2.4" height="230.3" fill="#8ac4a8"/>
<rect x="1298.07" y="561.1" width="2.4" height="191.9" fill="#61b289"/>
<rect x="1300.05" y="584.2" width="2.4" height="168.8" fill="#61b289"/>
<rect x="1302.04" y="584.2" width="2.4" height="168.8" fill="#8ac4a8"/>
<rect x="1304.03" y="604.7" width="2.4" height="148.3" fill="#8ac4a8"/>
<rect x="1306.02" y="607.2" width="2.4" height="145.8" fill="#8ac4a8"/>
<rect x="1308.00" y="607.2" width="2.4" height="145.8" fill="#61b289"/>
<rect x="1309.99" y="612.3" width="2.4" height="140.7" fill="#61b289"/>
<rect x="1311.98" y="612.3" width="2.4" height="140.7" fill="#8ac4a8"/>
<rect x="1313.97" y="691.7" width="2.4" height="61.3" fill="#8ac4a8"/>
<rect x="1315.95" y="704.5" width="2.4" height="48.5" fill="#8ac4a8"/>
<rect x="1317.94" y="704.5" width="2.4" height="48.5" fill="#61b289"/>
<rect x="1319.93" y="650.8" width="2.4" height="102.2" fill="#61b289"/>
<rect x="1321.92" y="650.8" width="2.4" height="102.2" fill="#8ac4a8"/>
<rect x="1323.90" y="717.3" width="2.4" height="35.7" fill="#8ac4a8"/>
<rect x="1325.89" y="709.7" width="2.4" height="43.3" fill="#8ac4a8"/>
<rect x="1327.88" y="753.0" width="2.4" height="27.4" fill="#cc5550"/>
<rect x="1329.87" y="730.2" width="2.4" height="22.8" fill="#61b289"/>
<rect x="1331.85" y="730.2" width="2.4" height="22.8" fill="#8ac4a8"/>
<rect x="1333.84" y="709.7" width="2.4" height="43.3" fill="#8ac4a8"/>
<rect x="1335.83" y="709.7" width="2.4" height="43.3" fill="#8ac4a8"/>
<rect x="1337.81" y="753.0" width="2.4" height="88.7" fill="#cc5550"/>
<rect x="1339.80" y="753.0" width="2.4" height="23.7" fill="#cc5550"/>
<rect x="1341.79" y="753.0" width="2.4" height="23.7" fill="#d4807c"/>
<rect x="1343.78" y="753.0" width="2.4" height="65.4" fill="#d4807c"/>
<rect x="1345.76" y="753.0" width="2.4" height="65.4" fill="#d4807c"/>
<rect x="1347.75" y="753.0" width="2.4" height="58.0" fill="#cc5550"/>
<rect x="1349.74" y="753.0" width="2.4" height="126.6" fill="#cc5550"/>
<rect x="1351.73" y="753.0" width="2.4" height="217.3" fill="#d4807c"/>
<rect x="1353.71" y="753.0" width="2.4" height="217.3" fill="#d4807c"/>
<rect x="1355.70" y="753.0" width="2.4" height="246.7" fill="#d4807c"/>
<rect x="1357.69" y="753.0" width="2.4" height="246.7" fill="#cc5550"/>
<rect x="1359.68" y="753.0" width="2.4" height="246.7" fill="#cc5550"/>
<rect x="1361.66" y="753.0" width="2.4" height="310.4" fill="#d4807c"/>
<rect x="1363.65" y="753.0" width="2.4" height="310.4" fill="#d4807c"/>
<rect x="1365.64" y="753.0" width="2.4" height="256.5" fill="#d4807c"/>
<rect x="1367.63" y="753.0" width="2.4" height="256.5" fill="#cc5550"/>
<rect x="1369.61" y="753.0" width="2.4" height="195.2" fill="#cc5550"/>
<rect x="1371.60" y="753.0" width="2.4" height="195.2" fill="#d4807c"/>
<rect x="1373.59" y="753.0" width="2.4" height="195.2" fill="#d4807c"/>
<rect x="1375.58" y="753.0" width="2.4" height="285.9" fill="#d4807c"/>
<rect x="1377.56" y="753.0" width="2.4" height="195.2" fill="#cc5550"/>
<rect x="1379.55" y="753.0" width="2.4" height="195.2" fill="#cc5550"/>
<rect x="1381.54" y="753.0" width="2.4" height="107.0" fill="#d4807c"/>
<rect x="1383.53" y="753.0" width="2.4" height="99.7" fill="#d4807c"/>
<rect x="1385.51" y="753.0" width="2.4" height="107.0" fill="#d4807c"/>
<rect x="1387.50" y="753.0" width="2.4" height="107.0" fill="#cc5550"/>
<rect x="1389.49" y="753.0" width="2.4" height="80.1" fill="#cc5550"/>
<rect x="1391.47" y="753.0" width="2.4" height="80.1" fill="#d4807c"/>
<rect x="1393.46" y="753.0" width="2.4" height="124.2" fill="#d4807c"/>
<rect x="1395.45" y="753.0" width="2.4" height="43.3" fill="#d4807c"/>
<rect x="1397.44" y="753.0" width="2.4" height="67.8" fill="#cc5550"/>
<rect x="1399.42" y="753.0" width="2.4" height="68.5" fill="#cc5550"/>
<rect x="1401.41" y="753.0" width="2.4" height="68.5" fill="#d4807c"/>
<rect x="1403.40" y="753.0" width="2.4" height="68.5" fill="#d4807c"/>
<rect x="1405.39" y="722.1" width="2.4" height="30.9" fill="#8ac4a8"/>
<rect x="1407.37" y="722.1" width="2.4" height="30.9" fill="#61b289"/>
<rect x="1409.36" y="676.0" width="2.4" height="77.0" fill="#61b289"/>
<rect x="1411.35" y="676.0" width="2.4" height="77.0" fill="#8ac4a8"/>
<rect x="1413.34" y="696.5" width="2.4" height="56.5" fill="#8ac4a8"/>
<rect x="1415.32" y="693.9" width="2.4" height="59.1" fill="#8ac4a8"/>
<rect x="1417.31" y="693.9" width="2.4" height="59.1" fill="#61b289"/>
<rect x="1419.30" y="714.4" width="2.4" height="38.6" fill="#61b289"/>
<rect x="1421.29" y="724.7" width="2.4" height="28.3" fill="#8ac4a8"/>
<rect x="1423.27" y="724.7" width="2.4" height="28.3" fill="#8ac4a8"/>
<rect x="1425.26" y="747.7" width="2.4" height="5.3" fill="#8ac4a8"/>
<rect x="1427.25" y="747.7" width="2.4" height="5.3" fill="#61b289"/>
<rect x="1429.24" y="747.7" width="2.4" height="5.3" fill="#61b289"/>
<rect x="1433.21" y="753.0" width="2.4" height="20.7" fill="#d4807c"/>
<rect x="1435.20" y="753.0" width="2.4" height="43.5" fill="#d4807c"/>
<rect x="1437.18" y="753.0" width="2.4" height="75.8" fill="#d4807c"/>
<rect x="1439.17" y="753.0" width="2.4" height="75.8" fill="#cc5550"/>
<rect x="1441.16" y="753.0" width="2.4" height="73.6" fill="#cc5550"/>
<rect x="1443.15" y="753.0" width="2.4" height="73.6" fill="#d4807c"/>
<rect x="1445.13" y="753.0" width="2.4" height="73.6" fill="#d4807c"/>
<rect x="1447.12" y="753.0" width="2.4" height="53.8" fill="#d4807c"/>
<rect x="1449.11" y="753.0" width="2.4" height="53.8" fill="#cc5550"/>
<rect x="1451.10" y="753.0" width="2.4" height="68.5" fill="#cc5550"/>
<rect x="1453.08" y="753.0" width="2.4" height="58.2" fill="#d4807c"/>
<rect x="1455.07" y="753.0" width="2.4" height="53.8" fill="#d4807c"/>
<rect x="1457.06" y="753.0" width="2.4" height="53.8" fill="#d4807c"/>
<rect x="1459.05" y="753.0" width="2.4" height="40.5" fill="#cc5550"/>
<rect x="1461.03" y="753.0" width="2.4" height="40.5" fill="#cc5550"/>
<rect x="1463.02" y="642.7" width="2.4" height="110.3" fill="#8ac4a8"/>
<rect x="1465.01" y="594.1" width="2.4" height="158.9" fill="#8ac4a8"/>
<rect x="1467.00" y="563.4" width="2.4" height="189.6" fill="#8ac4a8"/>
<rect x="1468.98" y="563.4" width="2.4" height="189.6" fill="#61b289"/>
<rect x="1470.97" y="563.4" width="2.4" height="189.6" fill="#61b289"/>
<rect x="1472.96" y="522.4" width="2.4" height="230.6" fill="#8ac4a8"/>
<rect x="1474.95" y="522.4" width="2.4" height="230.6" fill="#8ac4a8"/>
<rect x="1476.93" y="517.3" width="2.4" height="235.7" fill="#8ac4a8"/>
<rect x="1478.92" y="501.9" width="2.4" height="251.1" fill="#61b289"/>
<rect x="1480.91" y="450.7" width="2.4" height="302.3" fill="#61b289"/>
<rect x="1482.90" y="450.7" width="2.4" height="302.3" fill="#8ac4a8"/>
<rect x="1484.88" y="450.7" width="2.4" height="302.3" fill="#8ac4a8"/>
<rect x="1486.87" y="427.7" width="2.4" height="325.3" fill="#8ac4a8"/>
<rect x="1488.86" y="427.7" width="2.4" height="325.3" fill="#61b289"/>
<rect x="1490.84" y="486.6" width="2.4" height="266.4" fill="#61b289"/>
<rect x="1492.83" y="550.6" width="2.4" height="202.4" fill="#8ac4a8"/>
<rect x="1494.82" y="576.2" width="2.4" height="176.8" fill="#8ac4a8"/>
<rect x="1496.81" y="576.2" width="2.4" height="176.8" fill="#8ac4a8"/>
<rect x="1498.79" y="576.2" width="2.4" height="176.8" fill="#61b289"/>
<rect x="1500.78" y="617.1" width="2.4" height="135.9" fill="#61b289"/>
<rect x="1502.77" y="617.1" width="2.4" height="135.9" fill="#8ac4a8"/>
<rect x="1504.76" y="617.1" width="2.4" height="135.9" fill="#8ac4a8"/>
<rect x="1506.74" y="624.8" width="2.4" height="128.2" fill="#8ac4a8"/>
<rect x="1508.73" y="624.8" width="2.4" height="128.2" fill="#61b289"/>
<rect x="1510.72" y="660.7" width="2.4" height="92.3" fill="#61b289"/>
<rect x="1512.71" y="650.4" width="2.4" height="102.6" fill="#8ac4a8"/>
<rect x="1514.69" y="650.4" width="2.4" height="102.6" fill="#8ac4a8"/>
<rect x="1516.68" y="629.9" width="2.4" height="123.1" fill="#8ac4a8"/>
<rect x="1518.67" y="629.9" width="2.4" height="123.1" fill="#61b289"/>
<rect x="1520.66" y="599.2" width="2.4" height="153.8" fill="#61b289"/>
<rect x="1522.64" y="550.6" width="2.4" height="202.4" fill="#8ac4a8"/>
<rect x="1524.63" y="550.6" width="2.4" height="202.4" fill="#8ac4a8"/>
<rect x="1526.62" y="550.6" width="2.4" height="202.4" fill="#8ac4a8"/>
<rect x="1528.61" y="553.1" width="2.4" height="199.9" fill="#61b289"/>
<rect x="1530.59" y="537.8" width="2.4" height="215.2" fill="#61b289"/>
<rect x="1532.58" y="525.0" width="2.4" height="228.0" fill="#8ac4a8"/>
<rect x="1534.57" y="525.0" width="2.4" height="228.0" fill="#8ac4a8"/>
<rect x="1536.56" y="548.0" width="2.4" height="205.0" fill="#8ac4a8"/>
<rect x="1538.54" y="606.9" width="2.4" height="146.1" fill="#61b289"/>
<rect x="1540.53" y="606.9" width="2.4" height="146.1" fill="#61b289"/>
<rect x="1542.52" y="663.2" width="2.4" height="89.8" fill="#8ac4a8"/>
<rect x="1544.50" y="665.8" width="2.4" height="87.2" fill="#8ac4a8"/>
<rect x="1546.49" y="688.8" width="2.4" height="64.2" fill="#8ac4a8"/>
<rect x="1548.48" y="688.8" width="2.4" height="64.2" fill="#61b289"/>
<rect x="1550.47" y="753.0" width="2.4" height="35.0" fill="#cc5550"/>
<rect x="1552.45" y="753.0" width="2.4" height="35.0" fill="#d4807c"/>
<rect x="1554.44" y="753.0" width="2.4" height="35.0" fill="#d4807c"/>
<rect x="1556.43" y="753.0" width="2.4" height="35.0" fill="#d4807c"/>
<rect x="1560.40" y="753.0" width="2.4" height="12.6" fill="#cc5550"/>
<rect x="1562.39" y="753.0" width="2.4" height="12.6" fill="#d4807c"/>
<rect x="1564.38" y="753.0" width="2.4" height="12.6" fill="#d4807c"/>
<rect x="1566.37" y="686.1" width="2.4" height="66.9" fill="#8ac4a8"/>
<rect x="1568.35" y="686.1" width="2.4" height="66.9" fill="#61b289"/>
<rect x="1570.34" y="645.5" width="2.4" height="107.5" fill="#61b289"/>
<rect x="1572.33" y="645.5" width="2.4" height="107.5" fill="#8ac4a8"/>
<rect x="1574.32" y="641.1" width="2.4" height="111.9" fill="#8ac4a8"/>
<rect x="1576.30" y="641.1" width="2.4" height="111.9" fill="#8ac4a8"/>
<rect x="1578.29" y="619.2" width="2.4" height="133.8" fill="#61b289"/>
<rect x="1580.28" y="612.6" width="2.4" height="140.4" fill="#61b289"/>
<rect x="1582.27" y="612.6" width="2.4" height="140.4" fill="#8ac4a8"/>
<rect x="1584.25" y="612.6" width="2.4" height="140.4" fill="#8ac4a8"/>
<rect x="1586.24" y="667.4" width="2.4" height="85.6" fill="#8ac4a8"/>
<rect x="1588.23" y="667.4" width="2.4" height="85.6" fill="#61b289"/>
<rect x="1590.21" y="581.9" width="2.4" height="171.1" fill="#61b289"/>
<rect x="1592.20" y="564.3" width="2.4" height="188.7" fill="#8ac4a8"/>
<rect x="1594.19" y="564.3" width="2.4" height="188.7" fill="#8ac4a8"/>
<rect x="1596.18" y="564.3" width="2.4" height="188.7" fill="#8ac4a8"/>
<rect x="1598.16" y="564.3" width="2.4" height="188.7" fill="#61b289"/>
<rect x="1600.15" y="581.9" width="2.4" height="171.1" fill="#61b289"/>
<rect x="1602.14" y="606.0" width="2.4" height="147.0" fill="#8ac4a8"/>
<rect x="1604.13" y="610.4" width="2.4" height="142.6" fill="#8ac4a8"/>
<rect x="1606.11" y="601.6" width="2.4" height="151.4" fill="#8ac4a8"/>
<rect x="1608.10" y="583.0" width="2.4" height="170.0" fill="#61b289"/>
<rect x="1610.09" y="583.0" width="2.4" height="170.0" fill="#61b289"/>
<rect x="1612.08" y="583.0" width="2.4" height="170.0" fill="#8ac4a8"/>
<rect x="1614.06" y="590.6" width="2.4" height="162.4" fill="#8ac4a8"/>
<rect x="1616.05" y="621.4" width="2.4" height="131.6" fill="#8ac4a8"/>
<rect x="1618.04" y="641.1" width="2.4" height="111.9" fill="#61b289"/>
<rect x="1620.03" y="592.8" width="2.4" height="160.2" fill="#61b289"/>
<rect x="1622.01" y="568.7" width="2.4" height="184.3" fill="#8ac4a8"/>
<rect x="1624.00" y="568.7" width="2.4" height="184.3" fill="#8ac4a8"/>
<rect x="1625.99" y="559.9" width="2.4" height="193.1" fill="#8ac4a8"/>
<rect x="1627.98" y="524.8" width="2.4" height="228.2" fill="#61b289"/>
<rect x="1629.96" y="524.8" width="2.4" height="228.2" fill="#61b289"/>
<rect x="1631.95" y="491.9" width="2.4" height="261.1" fill="#8ac4a8"/>
<rect x="1633.94" y="481.0" width="2.4" height="272.0" fill="#8ac4a8"/>
<rect x="1635.92" y="481.0" width="2.4" height="272.0" fill="#8ac4a8"/>
<rect x="1637.91" y="481.0" width="2.4" height="272.0" fill="#61b289"/>
<rect x="1639.90" y="498.5" width="2.4" height="254.5" fill="#61b289"/>
<rect x="1641.89" y="507.3" width="2.4" height="245.7" fill="#8ac4a8"/>
<rect x="1643.87" y="507.3" width="2.4" height="245.7" fill="#8ac4a8"/>
<rect x="1645.86" y="522.6" width="2.4" height="230.4" fill="#8ac4a8"/>
<rect x="1647.85" y="575.3" width="2.4" height="177.7" fill="#61b289"/>
<rect x="1649.84" y="617.0" width="2.4" height="136.0" fill="#61b289"/>
<rect x="1651.82" y="617.0" width="2.4" height="136.0" fill="#8ac4a8"/>
<rect x="1653.81" y="627.9" width="2.4" height="125.1" fill="#8ac4a8"/>
<rect x="1655.80" y="627.9" width="2.4" height="125.1" fill="#8ac4a8"/>
<rect x="1657.79" y="643.3" width="2.4" height="109.7" fill="#61b289"/>
<rect x="1659.77" y="720.1" width="2.4" height="32.9" fill="#61b289"/>
<rect x="1661.76" y="753.0" width="2.4" height="25.0" fill="#d4807c"/>
<rect x="1663.75" y="753.0" width="2.4" height="25.0" fill="#d4807c"/>
<rect x="1665.74" y="753.0" width="2.4" height="25.0" fill="#d4807c"/>
<rect x="1667.72" y="753.0" width="2.4" height="45.5" fill="#cc5550"/>
<rect x="1669.71" y="753.0" width="2.4" height="45.5" fill="#cc5550"/>
<rect x="1671.70" y="753.0" width="2.4" height="45.5" fill="#d4807c"/>
<rect x="1673.69" y="753.0" width="2.4" height="40.2" fill="#d4807c"/>
<rect x="1675.67" y="753.0" width="2.4" height="40.2" fill="#d4807c"/>
<rect x="1677.66" y="753.0" width="2.4" height="27.4" fill="#cc5550"/>
<rect x="1679.65" y="753.0" width="2.4" height="27.4" fill="#cc5550"/>
<rect x="1681.64" y="753.0" width="2.4" height="27.4" fill="#d4807c"/>
<rect x="1683.62" y="753.0" width="2.4" height="24.2" fill="#d4807c"/>
<rect x="1685.61" y="753.0" width="2.4" height="24.2" fill="#d4807c"/>
<rect x="1687.60" y="753.0" width="2.4" height="24.2" fill="#cc5550"/>
<rect x="1689.58" y="715.7" width="2.4" height="37.3" fill="#61b289"/>
<rect x="1691.57" y="715.7" width="2.4" height="37.3" fill="#8ac4a8"/>
<rect x="1693.56" y="715.7" width="2.4" height="37.3" fill="#8ac4a8"/>
<rect x="1695.55" y="715.7" width="2.4" height="37.3" fill="#8ac4a8"/>
<rect x="1697.53" y="700.3" width="2.4" height="52.7" fill="#61b289"/>
<rect x="1699.52" y="715.2" width="2.4" height="37.8" fill="#61b289"/>
<rect x="1701.51" y="715.2" width="2.4" height="37.8" fill="#8ac4a8"/>
<rect x="1703.50" y="753.0" width="2.4" height="10.1" fill="#d4807c"/>
<rect x="1705.48" y="753.0" width="2.4" height="41.0" fill="#d4807c"/>
<rect x="1707.47" y="753.0" width="2.4" height="41.0" fill="#cc5550"/>
<rect x="1709.46" y="753.0" width="2.4" height="41.0" fill="#cc5550"/>
<rect x="1711.45" y="753.0" width="2.4" height="32.2" fill="#d4807c"/>
<rect x="1713.43" y="753.0" width="2.4" height="32.2" fill="#d4807c"/>
<rect x="1715.42" y="753.0" width="2.4" height="32.2" fill="#d4807c"/>
<rect x="1717.41" y="753.0" width="2.4" height="35.4" fill="#cc5550"/>
<rect x="1719.40" y="753.0" width="2.4" height="35.4" fill="#cc5550"/>
<rect x="1721.38" y="753.0" width="2.4" height="35.4" fill="#d4807c"/>
<rect x="1723.37" y="753.0" width="2.4" height="35.4" fill="#d4807c"/>
<rect x="1725.36" y="753.0" width="2.4" height="35.4" fill="#d4807c"/>
<rect x="1727.35" y="707.9" width="2.4" height="45.1" fill="#61b289"/>
<rect x="1729.33" y="704.3" width="2.4" height="48.7" fill="#61b289"/>
<rect x="1731.32" y="704.3" width="2.4" height="48.7" fill="#8ac4a8"/>
<rect x="1733.31" y="712.8" width="2.4" height="40.2" fill="#8ac4a8"/>
<rect x="1735.30" y="710.3" width="2.4" height="42.7" fill="#8ac4a8"/>
<rect x="1737.28" y="710.3" width="2.4" height="42.7" fill="#61b289"/>
<rect x="1739.27" y="710.3" width="2.4" height="42.7" fill="#61b289"/>
<rect x="1743.24" y="677.8" width="2.4" height="75.2" fill="#8ac4a8"/>
<rect x="1745.23" y="656.0" width="2.4" height="97.0" fill="#8ac4a8"/>
<rect x="1747.22" y="623.4" width="2.4" height="129.6" fill="#61b289"/>
<rect x="1749.21" y="623.4" width="2.4" height="129.6" fill="#61b289"/>
<rect x="1751.19" y="628.3" width="2.4" height="124.7" fill="#61b289"/>
<rect x="1753.18" y="628.3" width="2.4" height="124.7" fill="#8ac4a8"/>
<rect x="1755.17" y="601.7" width="2.4" height="151.3" fill="#8ac4a8"/>
<rect x="1757.16" y="618.6" width="2.4" height="134.4" fill="#8ac4a8"/>
<rect x="1759.14" y="580.0" width="2.4" height="173.0" fill="#61b289"/>
<rect x="1761.13" y="580.0" width="2.4" height="173.0" fill="#61b289"/>
<rect x="1763.12" y="613.8" width="2.4" height="139.2" fill="#8ac4a8"/>
<rect x="1765.11" y="581.2" width="2.4" height="171.8" fill="#8ac4a8"/>
<rect x="1767.09" y="581.2" width="2.4" height="171.8" fill="#8ac4a8"/>
<rect x="1769.08" y="625.9" width="2.4" height="127.1" fill="#61b289"/>
<rect x="1771.07" y="657.2" width="2.4" height="95.8" fill="#61b289"/>
<rect x="1773.06" y="695.9" width="2.4" height="57.1" fill="#8ac4a8"/>
<rect x="1782.99" y="734.5" width="2.4" height="18.5" fill="#8ac4a8"/>
<rect x="1784.98" y="674.1" width="2.4" height="78.9" fill="#8ac4a8"/>
<rect x="1786.97" y="639.1" width="2.4" height="113.9" fill="#8ac4a8"/>
<rect x="1788.95" y="639.1" width="2.4" height="113.9" fill="#61b289"/>
<rect x="1790.94" y="639.1" width="2.4" height="113.9" fill="#61b289"/>
<rect x="1792.93" y="563.1" width="2.4" height="189.9" fill="#8ac4a8"/>
<rect x="1794.92" y="563.1" width="2.4" height="189.9" fill="#8ac4a8"/>
<rect x="1796.90" y="505.2" width="2.4" height="247.8" fill="#8ac4a8"/>
<rect x="1798.89" y="496.7" width="2.4" height="256.3" fill="#61b289"/>
<rect x="1800.88" y="476.2" width="2.4" height="276.8" fill="#61b289"/>
<rect x="1802.87" y="450.9" width="2.4" height="302.1" fill="#8ac4a8"/>
<rect x="1804.85" y="450.9" width="2.4" height="302.1" fill="#8ac4a8"/>
<rect x="1806.84" y="478.6" width="2.4" height="274.4" fill="#8ac4a8"/>
<rect x="1808.83" y="478.6" width="2.4" height="274.4" fill="#61b289"/>
<rect x="1810.82" y="512.4" width="2.4" height="240.6" fill="#61b289"/>
<rect x="1812.80" y="548.6" width="2.4" height="204.4" fill="#8ac4a8"/>
<rect x="1814.79" y="612.6" width="2.4" height="140.4" fill="#8ac4a8"/>
<rect x="1816.78" y="683.8" width="2.4" height="69.2" fill="#8ac4a8"/>
<rect x="1818.77" y="683.8" width="2.4" height="69.2" fill="#61b289"/>
<rect x="1820.75" y="683.8" width="2.4" height="69.2" fill="#61b289"/>
<rect x="1822.74" y="753.0" width="2.4" height="15.0" fill="#d4807c"/>
<rect x="1824.73" y="753.0" width="2.4" height="38.0" fill="#d4807c"/>
<rect x="1826.72" y="753.0" width="2.4" height="38.0" fill="#d4807c"/>
<rect x="1828.70" y="753.0" width="2.4" height="47.3" fill="#cc5550"/>
<rect x="1830.69" y="753.0" width="2.4" height="47.3" fill="#cc5550"/>
<rect x="1832.68" y="753.0" width="2.4" height="47.3" fill="#d4807c"/>
<rect x="1834.66" y="753.0" width="2.4" height="45.7" fill="#d4807c"/>
<rect x="1836.65" y="753.0" width="2.4" height="45.7" fill="#d4807c"/>
<rect x="1838.64" y="753.0" width="2.4" height="12.0" fill="#cc5550"/>
<rect x="1840.63" y="753.0" width="2.4" height="35.0" fill="#cc5550"/>
<rect x="1842.61" y="753.0" width="2.4" height="35.0" fill="#d4807c"/>
<rect x="1844.60" y="753.0" width="2.4" height="24.2" fill="#d4807c"/>
<rect x="1846.59" y="753.0" width="2.4" height="24.2" fill="#d4807c"/>
<rect x="1848.58" y="753.0" width="2.4" height="24.2" fill="#cc5550"/>
<rect x="1850.56" y="753.0" width="2.4" height="28.8" fill="#cc5550"/>
<rect x="1852.55" y="753.0" width="2.4" height="99.4" fill="#d4807c"/>
<rect x="1854.54" y="753.0" width="2.4" height="99.4" fill="#d4807c"/>
<rect x="1856.53" y="753.0" width="2.4" height="122.5" fill="#d4807c"/>
<rect x="1858.51" y="753.0" width="2.4" height="122.5" fill="#cc5550"/>
<rect x="1860.50" y="753.0" width="2.4" height="122.5" fill="#cc5550"/>
<rect x="1862.49" y="753.0" width="2.4" height="120.9" fill="#d4807c"/>
<rect x="1864.48" y="753.0" width="2.4" height="128.6" fill="#d4807c"/>
<rect x="1866.46" y="753.0" width="2.4" height="102.5" fill="#d4807c"/>
<rect x="1868.45" y="753.0" width="2.4" height="102.5" fill="#cc5550"/>
<rect x="1870.44" y="753.0" width="2.4" height="102.5" fill="#cc5550"/>
<rect x="1872.43" y="753.0" width="2.4" height="147.0" fill="#d4807c"/>
<rect x="1874.41" y="753.0" width="2.4" height="147.0" fill="#d4807c"/>
<rect x="1876.40" y="753.0" width="2.4" height="157.0" fill="#d4807c"/>
<rect x="1878.39" y="753.0" width="2.4" height="157.0" fill="#cc5550"/>
<rect x="1880.38" y="753.0" width="2.4" height="157.0" fill="#cc5550"/>
<rect x="1882.36" y="753.0" width="2.4" height="190.0" fill="#d4807c"/>
<rect x="1884.35" y="753.0" width="2.4" height="171.6" fill="#d4807c"/>
<rect x="1886.34" y="753.0" width="2.4" height="171.6" fill="#d4807c"/>
<rect x="1888.32" y="753.0" width="2.4" height="171.6" fill="#cc5550"/>
<rect x="1890.31" y="753.0" width="2.4" height="170.0" fill="#cc5550"/>
<rect x="1892.30" y="753.0" width="2.4" height="185.4" fill="#d4807c"/>
<rect x="1894.29" y="753.0" width="2.4" height="185.4" fill="#d4807c"/>
<rect x="1896.27" y="753.0" width="2.4" height="185.4" fill="#d4807c"/>
<rect x="1898.26" y="753.0" width="2.4" height="145.5" fill="#cc5550"/>
<rect x="1900.25" y="753.0" width="2.4" height="82.5" fill="#cc5550"/>
<rect x="1902.24" y="753.0" width="2.4" height="82.5" fill="#d4807c"/>
<rect x="1904.22" y="753.0" width="2.4" height="82.5" fill="#d4807c"/>
<rect x="1906.21" y="753.0" width="2.4" height="65.7" fill="#d4807c"/>
<rect x="1908.20" y="753.0" width="2.4" height="25.8" fill="#cc5550"/>
<rect x="1910.19" y="753.0" width="2.4" height="35.0" fill="#cc5550"/>
<rect x="1912.17" y="741.8" width="2.4" height="11.2" fill="#8ac4a8"/>
<rect x="1914.16" y="741.8" width="2.4" height="11.2" fill="#8ac4a8"/>
<rect x="1916.15" y="741.8" width="2.4" height="11.2" fill="#8ac4a8"/>
<rect x="1918.14" y="741.8" width="2.4" height="11.2" fill="#61b289"/>
<rect x="1920.12" y="746.1" width="2.4" height="6.9" fill="#61b289"/>
<rect x="1922.11" y="735.6" width="2.4" height="17.4" fill="#8ac4a8"/>
<rect x="1924.10" y="735.6" width="2.4" height="17.4" fill="#8ac4a8"/>
<rect x="1926.09" y="738.2" width="2.4" height="14.8" fill="#8ac4a8"/>
<rect x="1928.07" y="740.0" width="2.4" height="13.0" fill="#61b289"/>
<rect x="1930.06" y="740.0" width="2.4" height="13.0" fill="#61b289"/>
<rect x="1932.05" y="740.0" width="2.4" height="13.0" fill="#8ac4a8"/>
<rect x="1934.04" y="753.0" width="2.4" height="10.4" fill="#d4807c"/>
<rect x="1936.02" y="753.0" width="2.4" height="36.5" fill="#d4807c"/>
<rect x="1941.98" y="753.0" width="2.4" height="15.8" fill="#d4807c"/>
<rect x="1943.97" y="753.0" width="2.4" height="15.8" fill="#d4807c"/>
<rect x="1949.93" y="753.0" width="2.4" height="68.7" fill="#cc5550"/>
<rect x="1951.92" y="753.0" width="2.4" height="68.7" fill="#d4807c"/>
<rect x="1953.91" y="753.0" width="2.4" height="91.0" fill="#d4807c"/>
<rect x="1955.90" y="753.0" width="2.4" height="91.0" fill="#d4807c"/>
<rect x="1957.88" y="753.0" width="2.4" height="91.0" fill="#cc5550"/>
<rect x="1959.87" y="753.0" width="2.4" height="91.0" fill="#cc5550"/>
<rect x="1961.86" y="753.0" width="2.4" height="68.7" fill="#d4807c"/>
<rect x="1963.85" y="753.0" width="2.4" height="68.7" fill="#d4807c"/>
<rect x="1965.83" y="753.0" width="2.4" height="68.7" fill="#d4807c"/>
<rect x="1967.82" y="753.0" width="2.4" height="62.6" fill="#cc5550"/>
<rect x="1969.81" y="753.0" width="2.4" height="62.6" fill="#cc5550"/>
<rect x="1971.80" y="753.0" width="2.4" height="25.8" fill="#d4807c"/>
<rect x="1973.78" y="753.0" width="2.4" height="25.8" fill="#d4807c"/>
<rect x="1975.77" y="730.4" width="2.4" height="22.6" fill="#8ac4a8"/>
<rect x="1977.76" y="717.2" width="2.4" height="35.8" fill="#61b289"/>
<rect x="1979.75" y="749.6" width="2.4" height="3.4" fill="#61b289"/>
<rect x="1981.73" y="753.0" width="2.4" height="15.8" fill="#d4807c"/>
<rect x="1983.72" y="753.0" width="2.4" height="18.1" fill="#d4807c"/>
<rect x="1985.71" y="753.0" width="2.4" height="18.1" fill="#d4807c"/>
<rect x="1987.69" y="753.0" width="2.4" height="18.1" fill="#cc5550"/>
<rect x="1991.67" y="669.8" width="2.4" height="83.2" fill="#8ac4a8"/>
<rect x="1993.66" y="669.8" width="2.4" height="83.2" fill="#8ac4a8"/>
<rect x="1995.64" y="655.8" width="2.4" height="97.2" fill="#8ac4a8"/>
<rect x="1997.63" y="691.8" width="2.4" height="61.2" fill="#61b289"/>
<rect x="1999.62" y="691.2" width="2.4" height="61.8" fill="#61b289"/>
<rect x="2001.61" y="691.2" width="2.4" height="61.8" fill="#8ac4a8"/>
<rect x="2003.59" y="738.0" width="2.4" height="15.0" fill="#8ac4a8"/>
<rect x="2005.58" y="753.0" width="2.4" height="14.3" fill="#d4807c"/>
<rect x="2007.57" y="753.0" width="2.4" height="34.7" fill="#cc5550"/>
<rect x="2009.56" y="753.0" width="2.4" height="34.7" fill="#cc5550"/>
<rect x="2019.49" y="753.0" width="2.4" height="64.0" fill="#cc5550"/>
<rect x="2021.48" y="753.0" width="2.4" height="119.6" fill="#d4807c"/>
<rect x="2023.47" y="753.0" width="2.4" height="178.1" fill="#d4807c"/>
<rect x="2025.46" y="753.0" width="2.4" height="178.1" fill="#d4807c"/>
<rect x="2027.44" y="753.0" width="2.4" height="216.2" fill="#cc5550"/>
<rect x="2029.43" y="753.0" width="2.4" height="216.2" fill="#cc5550"/>
<rect x="2031.42" y="753.0" width="2.4" height="181.0" fill="#d4807c"/>
<rect x="2033.40" y="753.0" width="2.4" height="148.9" fill="#d4807c"/>
<rect x="2035.39" y="753.0" width="2.4" height="172.3" fill="#d4807c"/>
<rect x="2037.38" y="753.0" width="2.4" height="172.3" fill="#cc5550"/>
<rect x="2039.37" y="753.0" width="2.4" height="145.9" fill="#cc5550"/>
<rect x="2041.35" y="753.0" width="2.4" height="145.9" fill="#d4807c"/>
<rect x="2043.34" y="753.0" width="2.4" height="145.9" fill="#d4807c"/>
<rect x="2045.33" y="753.0" width="2.4" height="128.4" fill="#d4807c"/>
<rect x="2047.32" y="753.0" width="2.4" height="128.4" fill="#cc5550"/>
<rect x="2049.30" y="753.0" width="2.4" height="110.8" fill="#cc5550"/>
<rect x="2051.29" y="753.0" width="2.4" height="81.6" fill="#d4807c"/>
<rect x="2053.28" y="753.0" width="2.4" height="72.8" fill="#d4807c"/>
<rect x="2055.27" y="753.0" width="2.4" height="72.8" fill="#d4807c"/>
<rect x="2057.25" y="753.0" width="2.4" height="107.9" fill="#cc5550"/>
<rect x="2059.24" y="753.0" width="2.4" height="107.9" fill="#cc5550"/>
<rect x="2061.23" y="753.0" width="2.4" height="72.8" fill="#d4807c"/>
<rect x="2063.22" y="753.0" width="2.4" height="72.8" fill="#d4807c"/>
<rect x="2065.20" y="753.0" width="2.4" height="52.3" fill="#d4807c"/>
<rect x="2067.19" y="753.0" width="2.4" height="61.1" fill="#d4807c"/>
<rect x="2069.18" y="753.0" width="2.4" height="61.1" fill="#cc5550"/>
<rect x="2071.17" y="753.0" width="2.4" height="31.8" fill="#cc5550"/>
<rect x="2073.15" y="753.0" width="2.4" height="87.4" fill="#d4807c"/>
<rect x="2075.14" y="753.0" width="2.4" height="87.4" fill="#d4807c"/>
<rect x="2079.12" y="720.4" width="2.4" height="32.6" fill="#61b289"/>
<rect x="2081.10" y="720.4" width="2.4" height="32.6" fill="#61b289"/>
<rect x="2083.09" y="708.7" width="2.4" height="44.3" fill="#8ac4a8"/>
<rect x="2085.08" y="708.7" width="2.4" height="44.3" fill="#8ac4a8"/>
<rect x="2087.06" y="673.6" width="2.4" height="79.4" fill="#8ac4a8"/>
<rect x="2089.05" y="632.7" width="2.4" height="120.3" fill="#61b289"/>
<rect x="2091.04" y="632.7" width="2.4" height="120.3" fill="#61b289"/>
<rect x="2093.03" y="591.7" width="2.4" height="161.3" fill="#8ac4a8"/>
<rect x="2095.01" y="632.7" width="2.4" height="120.3" fill="#8ac4a8"/>
<rect x="2097.00" y="632.7" width="2.4" height="120.3" fill="#8ac4a8"/>
<rect x="2098.99" y="597.6" width="2.4" height="155.4" fill="#61b289"/>
<rect x="2100.98" y="623.9" width="2.4" height="129.1" fill="#61b289"/>
<rect x="2102.96" y="623.9" width="2.4" height="129.1" fill="#8ac4a8"/>
<rect x="2104.95" y="656.1" width="2.4" height="96.9" fill="#8ac4a8"/>
<rect x="2106.94" y="656.1" width="2.4" height="96.9" fill="#8ac4a8"/>
<rect x="2108.93" y="638.5" width="2.4" height="114.5" fill="#61b289"/>
<rect x="2110.91" y="638.5" width="2.4" height="114.5" fill="#61b289"/>
<rect x="2112.90" y="638.5" width="2.4" height="114.5" fill="#8ac4a8"/>
<rect x="2114.89" y="661.9" width="2.4" height="91.1" fill="#8ac4a8"/>
<rect x="2116.88" y="679.5" width="2.4" height="73.5" fill="#8ac4a8"/>
<rect x="2118.86" y="679.5" width="2.4" height="73.5" fill="#61b289"/>
<rect x="2120.85" y="708.7" width="2.4" height="44.3" fill="#61b289"/>
<rect x="2122.84" y="708.7" width="2.4" height="44.3" fill="#8ac4a8"/>
<rect x="2124.83" y="680.9" width="2.4" height="72.1" fill="#8ac4a8"/>
<rect x="2126.81" y="680.9" width="2.4" height="72.1" fill="#8ac4a8"/>
<rect x="2128.80" y="717.5" width="2.4" height="35.5" fill="#61b289"/>
<rect x="2130.79" y="717.5" width="2.4" height="35.5" fill="#61b289"/>
<rect x="2132.78" y="743.9" width="2.4" height="9.1" fill="#8ac4a8"/>
<rect x="2134.76" y="753.0" width="2.4" height="17.2" fill="#d4807c"/>
<rect x="2136.75" y="753.0" width="2.4" height="17.2" fill="#d4807c"/>
<rect x="2138.74" y="753.0" width="2.4" height="17.2" fill="#cc5550"/>
<rect x="2140.72" y="753.0" width="2.4" height="26.0" fill="#cc5550"/>
<rect x="2142.71" y="753.0" width="2.4" height="26.0" fill="#d4807c"/>
<rect x="2144.70" y="753.0" width="2.4" height="37.7" fill="#d4807c"/>
<rect x="2146.69" y="753.0" width="2.4" height="37.7" fill="#d4807c"/>
<rect x="2148.67" y="753.0" width="2.4" height="17.2" fill="#cc5550"/>
<rect x="2150.66" y="753.0" width="2.4" height="17.2" fill="#cc5550"/>
<rect x="2152.65" y="753.0" width="2.4" height="14.3" fill="#d4807c"/>
<rect x="2154.64" y="753.0" width="2.4" height="14.3" fill="#d4807c"/>
<rect x="2156.62" y="753.0" width="2.4" height="5.5" fill="#d4807c"/>
<g opacity="0.068"><use href="#gn" fill="#000" stroke="#000" transform="translate(-6751.11,-3986.24) scale(3.608)"/></g>
<rect x="272.5" y="1109.5" width="1889" height="3.5" fill="#d6d7db"/>
<rect x="394.25" y="1113" width="1.5" height="16" fill="#d3d4d8"/>
<rect x="516.05" y="1113" width="1.5" height="16" fill="#d3d4d8"/>
<rect x="633.95" y="1113" width="1.5" height="16" fill="#d3d4d8"/>
<rect x="755.75" y="1113" width="1.5" height="16" fill="#d3d4d8"/>
<rect x="877.75" y="1113" width="1.5" height="16" fill="#d3d4d8"/>
<rect x="1001.05" y="1113" width="1.5" height="16" fill="#d3d4d8"/>
<rect x="1121.15" y="1113" width="1.5" height="16" fill="#d3d4d8"/>
<rect x="1243.75" y="1113" width="1.5" height="16" fill="#d3d4d8"/>
<rect x="1361.15" y="1113" width="1.5" height="16" fill="#d3d4d8"/>
<rect x="1481.45" y="1113" width="1.5" height="16" fill="#d3d4d8"/>
<rect x="1603.25" y="1113" width="1.5" height="16" fill="#d3d4d8"/>
<rect x="1726.15" y="1113" width="1.5" height="16" fill="#d3d4d8"/>
<rect x="1848.25" y="1113" width="1.5" height="16" fill="#d3d4d8"/>
<rect x="1968.45" y="1113" width="1.5" height="16" fill="#d3d4d8"/>
<rect x="2085.55" y="1113" width="1.5" height="16" fill="#d3d4d8"/>
<path d="M275.8,1064.5 L278.0,1064.6 L280.2,1065.4 L283.2,1067.8 L285.3,1062.7 L288.3,1064.9 L291.2,1064.5 L294.1,1070.0 L296.3,1063.0 L298.5,1061.9 L300.7,1059.5 L303.6,1059.0 L306.5,1059.1 L308.7,1056.5 L310.9,1054.7 L313.1,1055.8 L315.3,1059.1 L317.9,1060.3 L320.4,1062.0 L323.0,1063.0 L325.6,1061.3 L328.5,1057.6 L330.7,1057.0 L332.9,1055.4 L335.1,1050.3 L338.7,1052.5 L340.9,1053.7 L343.1,1052.5 L346.7,1049.6 L350.4,1052.5 L352.6,1056.1 L354.8,1059.1 L357.0,1058.6 L359.2,1057.4 L361.4,1056.2 L365.0,1045.2 L367.2,1043.2 L369.4,1045.2 L372.3,1037.9 L375.3,1032.0 L377.4,1018.9 L378.9,1005.7 L381.8,1000.6 L384.0,1002.7 L386.2,1002.8 L388.2,1001.0 L390.2,998.6 L392.2,993.6 L394.3,993.3 L396.5,992.3 L398.6,995.5 L401.1,994.4 L403.5,994.9 L406.0,995.5 L408.5,992.9 L411.1,989.6 L412.5,979.4 L415.1,979.4 L417.6,979.4 L419.8,985.9 L422.0,991.1 L422.8,974.3 L425.0,985.3 L427.9,983.0 L430.8,982.3 L433.0,976.5 L435.2,989.6 L436.7,978.7 L439.6,977.2 L442.5,975.0 L445.1,977.3 L447.6,978.7 L450.2,975.3 L452.7,973.6 L455.7,967.7 L459.3,959.7 L460.0,941.4 L461.5,925.3 L464.4,930.4 L466.6,930.7 L468.8,926.8 L472.5,929.7 L475.4,948.0 L477.6,941.7 L479.8,934.1 L481.2,942.9 L484.2,945.8 L487.1,945.8 L490.7,937.0 L492.9,929.7 L495.1,927.1 L497.3,926.0 L501.0,931.2 L503.2,932.5 L505.4,935.6 L507.6,931.9 L510.5,940.7 L514.1,940.7 L517.1,936.3 L519.2,921.7 L521.4,931.2 L524.4,926.8 L526.9,927.1 L529.5,928.2 L530.9,906.3 L533.1,907.3 L535.3,908.5 L538.3,909.2 L539.7,934.1 L541.9,942.9 L544.1,939.6 L546.3,934.8 L549.9,948.0 L552.9,946.5 L556.5,946.5 L558.0,961.1 L560.2,960.3 L562.4,958.9 L565.3,958.9 L567.5,942.9 L569.7,938.3 L571.9,934.8 L574.4,934.0 L577.0,935.6 L579.9,935.6 L582.1,936.0 L584.3,937.7 L587.2,928.2 L590.0,916.5 L592.1,908.8 L594.1,897.1 L596.2,889.1 L598.3,879.5 L601.2,873.5 L604.1,866.4 L606.7,864.1 L609.2,865.4 L611.7,864.5 L614.1,865.2 L616.5,862.7 L619.5,865.8 L622.4,873.7 L625.0,870.0 L627.5,867.1 L628.2,840.8 L629.7,832.0 L631.2,811.6 L631.9,783.8 L634.8,789.6 L638.5,785.3 L641.4,773.6 L642.1,742.9 L645.1,753.1 L644.3,770.6 L647.2,750.2 L649.4,741.4 L653.1,737.0 L654.6,712.2 L657.1,707.6 L659.7,703.4 L661.9,712.2 L664.1,723.9 L664.8,763.3 L667.0,738.5 L669.2,753.1 L671.4,786.7 L673.6,745.8 L675.0,775.0 L677.9,761.9 L680.1,770.6 L682.3,751.6 L685.3,729.7 L687.4,726.5 L689.6,725.3 L691.8,726.6 L694.0,726.8 L696.2,719.5 L697.7,729.7 L700.6,763.3 L704.3,738.5 L707.2,734.1 L709.7,725.2 L712.3,716.5 L715.2,726.8 L718.1,732.6 L721.8,763.3 L724.0,775.0 L726.6,782.0 L729.1,792.6 L732.0,779.4 L735.0,767.7 L737.9,764.8 L740.1,751.6 L742.3,766.2 L745.2,771.6 L748.1,775.0 L750.3,778.0 L752.5,779.4 L755.4,796.9 L757.6,816.0 L760.5,805.7 L763.5,775.0 L766.4,776.5 L770.0,783.8 L773.0,794.0 L776.6,798.4 L780.3,792.6 L783.2,782.3 L784.7,761.9 L787.6,758.9 L791.2,753.1 L793.4,750.2 L794.9,718.0 L797.8,726.8 L800.7,741.4 L803.7,735.6 L806.6,736.7 L809.5,735.6 L812.4,741.4 L816.1,744.3 L819.7,744.3 L822.7,732.6 L824.9,727.8 L827.1,719.5 L830.0,731.2 L832.2,731.6 L834.4,731.2 L837.3,732.6 L839.5,740.8 L841.7,748.7 L844.6,757.5 L846.8,754.5 L849.0,754.6 L851.9,761.9 L854.8,765.5 L857.8,767.7 L859.9,772.1 L862.1,777.9 L863.6,796.9 L866.5,792.6 L868.7,794.2 L870.9,796.9 L872.4,799.9 L875.3,790.3 L878.2,783.8 L881.1,794.0 L884.1,824.7 L887.0,829.1 L889.2,837.9 L891.4,824.7 L894.3,821.8 L897.1,819.9 L900.0,820.3 L900.0,821.7 L903.9,800.8 L906.7,768.9 L908.8,769.6 L910.8,771.7 L914.3,755.0 L917.8,745.3 L919.9,753.1 L921.9,757.8 L925.4,763.3 L928.9,743.9 L931.0,740.1 L933.1,741.1 L935.8,753.6 L938.6,766.1 L941.4,774.4 L942.1,793.9 L945.6,805.0 L946.9,848.1 L949.0,842.1 L951.1,839.7 L953.9,836.9 L954.6,792.5 L958.1,802.2 L960.1,811.9 L962.6,806.7 L965.0,800.8 L967.1,821.7 L970.6,811.9 L972.6,815.1 L974.7,814.7 L976.8,808.5 L978.9,800.8 L982.4,796.7 L985.8,773.1 L987.9,774.2 L990.0,780.0 L992.8,805.0 L995.6,810.6 L998.3,808.2 L1001.1,811.9 L1003.9,821.7 L1006.0,822.8 L1008.1,823.1 L1010.1,834.7 L1012.2,848.1 L1015.0,839.7 L1017.8,824.4 L1020.2,821.7 L1022.6,821.7 L1025.4,800.8 L1028.9,805.0 L1032.4,816.1 L1034.4,799.4 L1036.5,784.2 L1040.0,780.0 L1042.3,779.3 L1044.6,777.6 L1046.9,774.4 L1049.7,777.2 L1052.5,763.3 L1055.3,760.6 L1058.8,768.9 L1062.2,796.7 L1065.0,798.1 L1067.1,788.3 L1069.5,786.4 L1071.9,784.2 L1074.4,790.7 L1076.8,796.7 L1079.6,800.8 L1083.1,785.6 L1085.8,774.4 L1087.9,757.8 L1090.0,750.8 L1092.1,747.2 L1094.2,742.5 L1096.9,741.6 L1099.7,736.9 L1102.2,745.3 L1104.6,752.2 L1108.1,742.5 L1110.1,750.8 L1112.2,746.7 L1115.0,727.2 L1117.8,709.2 L1120.6,716.1 L1123.3,731.4 L1126.1,735.5 L1128.9,738.3 L1130.3,743.9 L1132.4,688.3 L1134.4,684.2 L1137.2,682.7 L1140.0,680.0 L1139.9,672.8 L1141.7,587.9 L1144.2,582.1 L1146.6,580.0 L1149.6,591.8 L1152.6,570.1 L1156.5,574.1 L1160.5,552.4 L1162.4,508.9 L1165.4,507.0 L1167.9,512.5 L1170.3,514.9 L1172.3,556.3 L1176.2,528.7 L1180.2,518.8 L1182.7,524.9 L1185.1,528.7 L1187.6,521.4 L1190.1,512.9 L1193.0,499.1 L1197.0,489.2 L1199.9,520.8 L1200.9,497.1 L1203.9,491.8 L1206.8,491.2 L1210.8,483.3 L1212.8,453.7 L1215.7,459.6 L1217.7,493.2 L1220.7,512.9 L1223.6,524.0 L1226.6,536.6 L1229.5,505.0 L1231.5,530.7 L1234.5,535.6 L1237.4,538.6 L1240.4,552.4 L1243.4,536.4 L1246.3,524.7 L1248.8,518.6 L1251.2,512.9 L1254.2,481.3 L1256.2,505.0 L1259.1,554.3 L1262.1,540.5 L1264.6,541.7 L1267.0,540.5 L1269.5,520.2 L1272.0,503.0 L1275.9,495.1 L1277.9,467.5 L1279.9,483.3 L1283.8,451.7 L1286.8,465.5 L1289.2,465.5 L1291.7,461.6 L1294.7,475.1 L1297.6,487.2 L1301.6,463.6 L1304.0,476.2 L1306.5,489.2 L1309.5,516.8 L1312.4,505.0 L1314.9,514.3 L1317.4,522.8 L1320.3,524.5 L1323.3,524.7 L1326.2,528.7 L1328.2,512.9 L1332.2,518.8 L1336.1,516.8 L1338.1,530.7 L1340.4,524.2 L1342.7,518.9 L1345.0,510.9 L1347.5,519.0 L1349.9,528.7 L1352.9,572.1 L1354.9,617.5 L1357.3,615.0 L1359.8,613.6 L1362.3,579.3 L1364.7,542.5 L1365.7,601.7 L1369.7,568.2 L1372.6,576.1 L1376.6,627.4 L1379.5,660.9 L1382.5,643.2 L1385.5,623.4 L1387.7,620.5 L1390.0,617.5 L1390.1,619.3 L1392.7,613.9 L1395.4,610.6 L1397.5,599.6 L1400.8,617.1 L1404.1,617.1 L1407.4,593.0 L1410.2,595.2 L1412.9,595.2 L1416.2,601.8 L1417.3,630.3 L1419.5,632.1 L1421.7,629.8 L1423.9,630.3 L1425.0,612.8 L1427.2,628.1 L1429.4,624.3 L1431.5,623.7 L1433.7,641.3 L1437.0,678.6 L1439.2,666.3 L1441.4,654.4 L1442.5,634.7 L1445.8,612.8 L1448.0,617.0 L1450.2,621.5 L1452.4,617.9 L1454.6,614.9 L1457.1,615.2 L1459.7,610.8 L1462.3,610.6 L1464.4,549.1 L1467.2,546.3 L1469.9,540.4 L1472.1,539.6 L1474.3,540.9 L1476.5,542.6 L1479.2,542.2 L1482.0,540.4 L1485.3,522.8 L1487.5,530.8 L1489.7,536.0 L1493.0,533.8 L1496.2,509.7 L1497.3,474.6 L1499.5,470.1 L1501.7,463.6 L1505.0,474.6 L1507.2,472.8 L1509.4,470.2 L1512.1,472.6 L1514.9,474.6 L1518.2,450.4 L1521.5,448.3 L1523.7,411.0 L1525.9,428.5 L1529.1,439.5 L1532.4,426.3 L1535.7,432.9 L1537.9,449.5 L1540.1,465.8 L1542.3,462.1 L1544.5,456.8 L1546.7,452.6 L1548.9,468.3 L1551.1,483.3 L1553.3,470.9 L1555.5,457.0 L1558.8,450.4 L1561.0,419.7 L1564.2,430.7 L1566.4,452.6 L1569.2,453.7 L1571.9,454.8 L1574.1,448.3 L1576.3,455.8 L1578.5,461.4 L1581.1,470.9 L1583.6,481.4 L1586.2,487.7 L1588.4,467.3 L1590.6,446.1 L1592.8,444.5 L1594.9,443.4 L1597.1,442.8 L1599.3,441.7 L1601.5,448.3 L1603.7,452.6 L1605.9,440.2 L1608.1,428.5 L1610.3,426.8 L1612.5,424.1 L1614.7,429.3 L1616.9,426.9 L1619.1,432.9 L1621.3,400.0 L1620.2,414.9 L1621.7,384.9 L1623.2,369.9 L1625.5,363.9 L1627.7,347.4 L1630.0,360.9 L1632.2,354.9 L1634.5,357.9 L1636.7,351.9 L1639.0,359.4 L1642.7,366.9 L1645.0,360.9 L1646.5,345.9 L1648.7,359.4 L1652.5,362.4 L1656.2,348.9 L1657.7,360.9 L1661.4,360.9 L1664.4,372.9 L1666.7,399.9 L1668.9,389.4 L1672.7,386.4 L1676.4,386.4 L1677.2,363.9 L1680.9,369.9 L1683.9,366.9 L1685.4,350.4 L1688.4,341.4 L1689.9,320.5 L1692.2,354.9 L1695.9,362.4 L1698.2,365.4 L1701.2,384.9 L1702.7,398.4 L1704.9,390.9 L1706.4,399.9 L1707.9,368.4 L1710.9,381.9 L1713.9,414.9 L1716.9,408.9 L1719.9,402.9 L1722.1,428.4 L1723.6,434.3 L1726.6,426.9 L1730.4,410.4 L1733.4,413.4 L1737.1,417.9 L1739.7,411.3 L1742.4,407.4 L1745.4,405.9 L1746.1,378.9 L1748.7,377.7 L1751.3,375.9 L1754.3,380.4 L1756.6,369.9 L1758.8,369.9 L1761.8,366.9 L1764.8,377.4 L1768.6,384.9 L1771.6,404.4 L1773.8,396.9 L1775.3,428.4 L1777.6,425.8 L1779.8,422.4 L1782.1,417.9 L1785.1,392.4 L1786.6,362.4 L1789.6,344.4 L1791.8,328.0 L1794.8,319.0 L1797.0,308.5 L1798.5,329.5 L1800.8,322.0 L1803.0,323.5 L1804.5,329.5 L1805.3,399.9 L1807.5,414.9 L1809.8,384.9 L1811.3,383.4 L1813.5,408.9 L1816.5,429.9 L1819.5,447.8 L1821.8,444.8 L1824.8,419.4 L1827.8,432.8 L1830.0,438.8 L1832.3,413.4 L1835.3,410.4 L1837.5,387.9 L1841.2,392.4 L1844.2,432.8 L1847.2,425.4 L1851.0,419.4 L1853.2,444.8 L1854.7,482.3 L1857.7,474.8 L1860.7,486.8 L1863.7,471.8 L1866.7,453.8 L1869.7,467.3 L1872.7,482.3 L1875.0,500.0 L1875.4,536.1 L1877.6,531.7 L1880.8,549.2 L1883.0,556.1 L1885.2,562.4 L1886.3,588.7 L1888.5,606.3 L1891.8,612.9 L1892.9,595.3 L1895.1,591.5 L1897.3,588.7 L1900.6,564.6 L1902.8,567.6 L1905.0,569.0 L1907.2,573.4 L1909.4,601.9 L1912.7,549.2 L1915.9,566.8 L1918.1,580.0 L1920.3,566.8 L1923.6,553.6 L1926.4,555.1 L1929.1,555.8 L1932.4,573.4 L1935.7,590.9 L1937.9,599.7 L1941.2,608.5 L1944.5,588.7 L1946.7,585.9 L1948.9,584.3 L1951.1,591.6 L1953.2,593.1 L1955.4,594.6 L1957.6,595.3 L1959.8,592.5 L1962.0,590.9 L1965.3,595.3 L1968.6,590.9 L1971.9,577.8 L1975.2,571.2 L1977.4,559.0 L1979.6,547.0 L1982.9,564.6 L1985.1,567.6 L1987.3,571.2 L1989.4,568.9 L1991.6,566.8 L1993.8,540.5 L1996.0,520.7 L1998.2,526.7 L2000.4,533.9 L2002.6,537.3 L2004.8,538.3 L2008.1,555.8 L2007.0,586.5 L2009.2,580.7 L2011.4,577.8 L2013.6,578.8 L2015.8,580.0 L2018.0,599.7 L2021.3,582.1 L2023.5,584.4 L2025.6,584.3 L2026.7,606.3 L2028.9,650.2 L2031.1,669.9 L2034.4,661.1 L2036.6,687.5 L2037.7,724.8 L2039.9,784.0 L2042.1,727.0 L2044.3,726.9 L2046.5,724.8 L2050.0,729.1 L2049.7,731.7 L2052.0,745.7 L2054.3,756.2 L2057.9,728.6 L2059.9,730.1 L2062.0,735.8 L2064.0,737.8 L2067.1,752.1 L2069.1,743.9 L2071.2,743.5 L2073.2,743.9 L2076.3,772.6 L2079.4,746.0 L2081.4,748.7 L2083.5,752.1 L2086.5,761.3 L2088.6,749.3 L2090.6,735.8 L2094.2,709.1 L2095.8,729.6 L2097.8,740.5 L2099.8,745.5 L2101.9,758.3 L2104.5,746.0 L2105.0,728.6 L2107.4,727.2 L2109.7,721.4 L2112.1,720.4 L2114.7,705.9 L2117.2,689.7 L2120.8,703.0 L2122.4,721.4 L2124.4,727.1 L2126.5,736.6 L2128.5,743.9 L2131.3,733.1 L2134.1,719.4 L2136.2,726.5 L2139.3,754.2 L2142.8,758.3 L2144.9,749.9 L2146.9,741.9 L2150.0,743.9 L2153.1,750.1 L2156.1,738.8 L2158.2,736.5 L2160.2,733.7 L2162.3,715.3 L2163.3,714.3" fill="none" stroke="#000" stroke-width="3.7" stroke-linejoin="round" stroke-linecap="round"/>
<rect x="2178.2" y="265.6" width="3" height="842.6" fill="#1a1a1a"/>
<text x="240" y="326.4" text-anchor="end" class="ax">5K</text>
<text x="240" y="412.7" text-anchor="end" class="ax">4K</text>
<text x="240" y="501.1" text-anchor="end" class="ax">3K</text>
<text x="240" y="587.6" text-anchor="end" class="ax">2K</text>
<text x="240" y="673.5" text-anchor="end" class="ax">1K</text>
<text x="240" y="759.8" text-anchor="end" class="ax">0</text>
<text x="240" y="848.3" text-anchor="end" class="ax">-1K</text>
<text x="240" y="934.3" text-anchor="end" class="ax">-2K</text>
<text x="240" y="1020.5" text-anchor="end" class="ax">-3K</text>
<text x="240" y="1109.3" text-anchor="end" class="ax">-4K</text>
<text x="2196" y="275.9" class="ax" letter-spacing="0.6">$130k</text>
<text x="2196" y="351.6" class="ax" letter-spacing="0.6">$120k</text>
<text x="2196" y="427.3" class="ax" letter-spacing="0.6">$110k</text>
<text x="2196" y="503.0" class="ax" letter-spacing="0.6">$100k</text>
<text x="2196" y="579.3" class="ax" letter-spacing="0.6">$90k</text>
<text x="2196" y="655.7" class="ax" letter-spacing="0.6">$80k</text>
<text x="2196" y="732.0" class="ax" letter-spacing="0.6">$70k</text>
<text x="2196" y="808.4" class="ax" letter-spacing="0.6">$60k</text>
<text x="2196" y="886.3" class="ax" letter-spacing="0.6">$50k</text>
<text x="2196" y="964.8" class="ax" letter-spacing="0.6">$40k</text>
<text x="2196" y="1040.7" class="ax" letter-spacing="0.6">$30k</text>
<text x="2196" y="1115.7" class="ax" letter-spacing="0.6">$20k</text>
<text x="393.0" y="1159" text-anchor="middle" class="tk">Nov '23</text>
<text x="514.8" y="1159" text-anchor="middle" class="tk">Jan '24</text>
<text x="632.7" y="1159" text-anchor="middle" class="tk">Mar '24</text>
<text x="754.5" y="1159" text-anchor="middle" class="tk">May '24</text>
<text x="876.5" y="1159" text-anchor="middle" class="tk">Jul '24</text>
<text x="999.8" y="1159" text-anchor="middle" class="tk">Sep '24</text>
<text x="1119.9" y="1159" text-anchor="middle" class="tk">Nov '24</text>
<text x="1242.5" y="1159" text-anchor="middle" class="tk">Jan '25</text>
<text x="1359.9" y="1159" text-anchor="middle" class="tk">Mar '25</text>
<text x="1480.2" y="1159" text-anchor="middle" class="tk">May '25</text>
<text x="1602.0" y="1159" text-anchor="middle" class="tk">Jul '25</text>
<text x="1724.9" y="1159" text-anchor="middle" class="tk">Sep '25</text>
<text x="1847.0" y="1159" text-anchor="middle" class="tk">Nov '25</text>
<text x="1967.2" y="1159" text-anchor="middle" class="tk">Jan '26</text>
<text x="2084.3" y="1159" text-anchor="middle" class="tk">Mar '26</text>
<text x="79" y="1303" style="font-family:'Liberation Sans',sans-serif;font-size:31px;fill:#6e6e6e;letter-spacing:0.42px">© 2026 Glassnode. All Rights Reserved.</text>
<use href="#gn" fill="#1c1c1c" stroke="#1c1c1c"/>
</svg>
</body></html>
